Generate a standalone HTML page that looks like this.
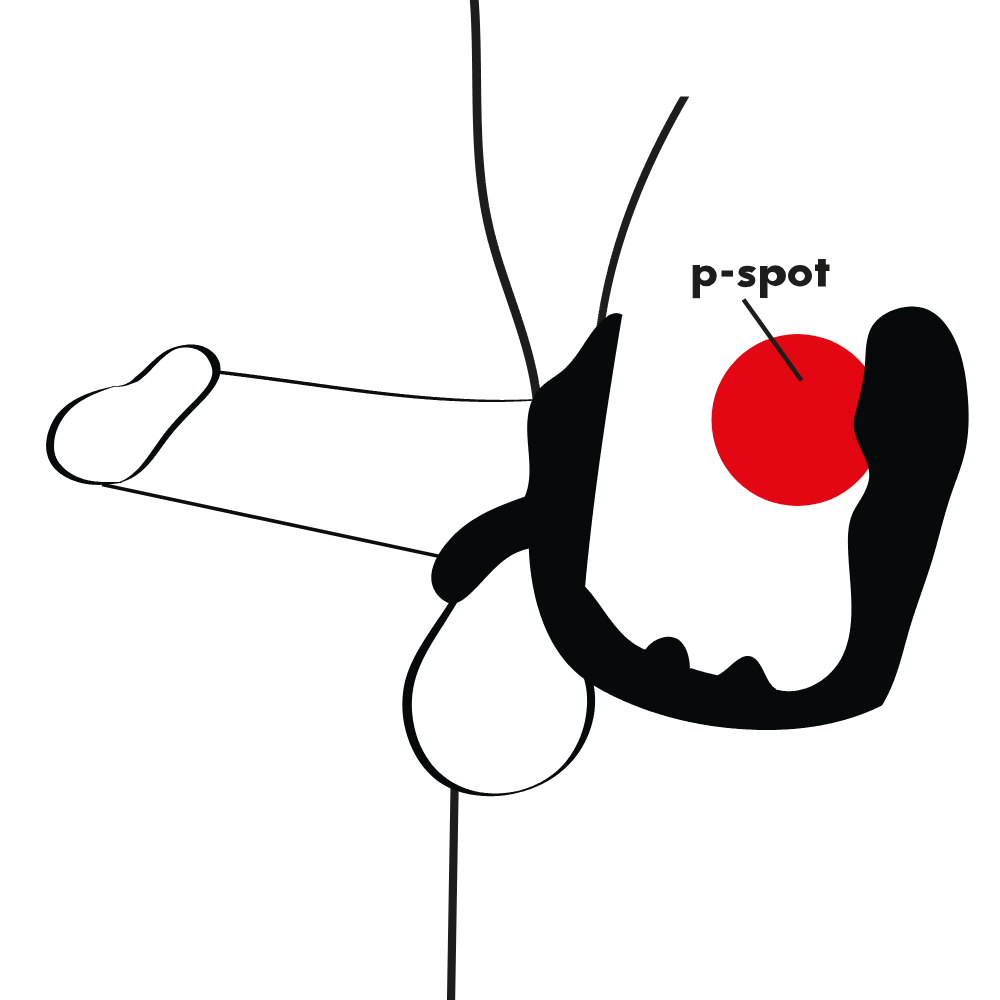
<!DOCTYPE html>
<html><head><meta charset="utf-8"><title>p-spot</title>
<style>html,body{margin:0;padding:0;background:#fff;width:1000px;height:1000px;overflow:hidden;font-family:"Liberation Sans",sans-serif}svg{display:block}</style>
</head><body>
<svg width="1000" height="1000" viewBox="0 0 1000 1000">
<rect width="1000" height="1000" fill="#ffffff"/>
<path d="M474.0 -3.9 L474.1 -2.9 L474.1 -2.0 L474.2 -1.0 L474.3 0.0 L474.3 1.0 L474.4 2.0 L474.5 3.0 L474.5 4.0 L474.6 5.0 L474.7 6.0 L474.7 7.0 L474.8 8.0 L474.8 9.0 L474.9 10.0 L475.0 11.0 L475.0 12.0 L475.1 13.0 L475.1 13.9 L475.2 14.9 L475.2 15.9 L475.3 16.9 L475.3 17.9 L475.4 18.9 L475.4 19.9 L475.4 20.9 L475.5 21.9 L475.5 22.9 L475.6 23.9 L475.6 24.9 L475.6 25.9 L475.7 26.9 L475.7 27.9 L475.7 28.9 L475.8 29.9 L475.8 30.9 L475.8 31.9 L475.9 32.9 L475.9 33.9 L475.9 34.9 L476.0 36.0 L476.0 37.0 L476.0 38.0 L476.0 39.0 L476.1 40.0 L476.1 41.0 L476.1 42.0 L476.1 43.0 L476.2 44.0 L476.2 45.0 L476.2 46.0 L476.2 47.0 L476.2 48.0 L476.3 49.0 L476.3 50.0 L476.3 51.0 L476.3 52.0 L476.3 53.0 L476.3 54.0 L476.4 55.0 L476.4 56.0 L476.4 57.1 L476.4 58.1 L476.4 59.1 L476.4 60.1 L476.4 61.1 L476.5 62.1 L476.5 63.1 L476.5 64.1 L476.5 65.1 L476.5 66.1 L476.5 67.1 L476.5 68.1 L476.5 69.1 L476.6 70.2 L476.6 71.2 L476.6 72.2 L476.6 73.2 L476.6 74.2 L476.6 75.2 L476.6 76.2 L476.6 77.2 L476.6 78.2 L476.7 79.2 L476.7 80.2 L476.7 81.2 L476.7 82.3 L476.7 83.3 L476.7 84.3 L476.7 85.3 L476.7 86.3 L476.7 87.3 L476.7 88.3 L476.8 89.3 L476.8 90.3 L476.8 91.3 L476.8 92.4 L476.8 93.4 L476.8 94.4 L476.8 95.4 L476.8 96.4 L476.9 97.4 L476.9 98.4 L476.9 99.4 L476.9 100.4 L476.9 101.4 L476.9 102.4 L476.9 103.5 L477.0 104.5 L477.0 105.5 L477.0 106.5 L477.0 107.5 L477.0 108.5 L477.1 109.5 L477.1 110.5 L477.1 111.5 L477.1 112.5 L477.1 113.5 L477.2 114.6 L477.2 115.6 L477.2 116.6 L477.2 117.6 L477.3 118.6 L477.3 119.6 L477.3 120.6 L477.3 121.6 L477.4 122.6 L477.4 123.6 L477.4 124.6 L477.5 125.6 L477.5 126.7 L477.5 127.7 L477.6 128.7 L477.6 129.7 L477.6 130.7 L477.7 131.7 L477.7 132.7 L477.7 133.7 L477.8 134.7 L477.8 135.7 L477.9 136.7 L477.9 137.7 L477.9 138.7 L478.0 139.7 L478.0 140.7 L478.1 141.7 L478.1 142.8 L478.2 143.8 L478.2 144.8 L478.3 145.8 L478.3 146.8 L478.4 147.8 L478.5 148.8 L478.5 149.8 L478.6 150.8 L478.6 151.8 L478.7 152.8 L478.8 153.8 L478.8 154.8 L478.9 155.8 L479.0 156.8 L479.0 157.8 L479.1 158.8 L479.2 159.8 L479.3 160.8 L479.3 161.8 L479.4 162.8 L479.5 163.8 L479.6 164.8 L479.7 165.8 L479.7 166.8 L479.8 167.8 L479.9 168.8 L480.0 169.8 L480.1 170.8 L480.2 171.8 L480.3 172.8 L480.4 173.8 L480.5 174.8 L480.6 175.8 L480.7 176.8 L480.8 177.8 L480.9 178.8 L481.0 179.8 L481.1 180.8 L481.2 181.8 L481.3 182.8 L481.5 183.8 L481.6 184.7 L481.7 185.7 L481.8 186.7 L481.9 187.7 L482.1 188.7 L482.2 189.7 L482.3 190.7 L482.5 191.7 L482.6 192.7 L482.7 193.7 L482.9 194.7 L483.0 195.7 L483.2 196.6 L483.3 197.6 L483.5 198.6 L483.6 199.6 L483.8 200.6 L483.9 201.6 L484.1 202.6 L484.2 203.6 L484.4 204.5 L484.6 205.5 L484.7 206.5 L484.9 207.5 L485.1 208.5 L485.3 209.5 L485.4 210.4 L485.6 211.4 L485.8 212.4 L486.0 213.4 L486.2 214.4 L486.4 215.4 L486.6 216.3 L486.8 217.3 L487.0 218.3 L487.2 219.3 L487.4 220.3 L487.6 221.2 L487.8 222.2 L488.0 223.2 L488.2 224.2 L488.4 225.1 L488.7 226.1 L488.9 227.1 L489.1 228.1 L489.3 229.0 L489.6 230.0 L489.8 231.0 L490.0 232.0 L490.3 232.9 L490.5 233.9 L490.8 234.9 L491.0 235.8 L491.3 236.8 L491.5 237.8 L491.8 238.8 L492.0 239.7 L492.3 240.7 L492.6 241.7 L492.8 242.6 L493.1 243.6 L493.4 244.6 L493.6 245.5 L493.9 246.5 L494.2 247.5 L494.5 248.4 L494.7 249.4 L495.0 250.4 L495.3 251.3 L495.6 252.3 L495.9 253.2 L496.2 254.2 L496.4 255.2 L496.7 256.1 L497.0 257.1 L497.3 258.1 L497.6 259.0 L497.9 260.0 L498.2 260.9 L498.5 261.9 L498.8 262.9 L499.1 263.8 L499.4 264.8 L499.7 265.7 L500.0 266.7 L500.3 267.7 L500.7 268.6 L501.0 269.6 L501.3 270.5 L501.6 271.5 L501.9 272.5 L502.2 273.4 L502.5 274.4 L502.9 275.3 L503.2 276.3 L503.5 277.2 L503.8 278.2 L504.1 279.2 L504.4 280.1 L504.8 281.1 L505.1 282.0 L505.4 283.0 L505.7 283.9 L506.1 284.9 L506.4 285.9 L506.7 286.8 L507.0 287.8 L507.4 288.7 L507.7 289.7 L508.0 290.6 L508.3 291.6 L508.7 292.6 L509.0 293.5 L509.3 294.5 L509.6 295.4 L510.0 296.4 L510.3 297.3 L510.6 298.3 L510.9 299.2 L511.3 300.2 L511.6 301.2 L511.9 302.1 L512.2 303.1 L512.6 304.0 L512.9 305.0 L513.2 305.9 L513.5 306.9 L513.9 307.8 L514.2 308.8 L514.5 309.8 L514.8 310.7 L515.2 311.7 L515.5 312.6 L515.8 313.6 L516.1 314.5 L516.4 315.5 L516.8 316.4 L517.1 317.4 L517.4 318.4 L517.7 319.3 L518.0 320.3 L518.3 321.2 L518.6 322.2 L519.0 323.1 L519.3 324.1 L519.6 325.1 L519.9 326.0 L520.2 327.0 L520.5 327.9 L520.8 328.9 L521.1 329.8 L521.4 330.8 L521.7 331.8 L522.0 332.7 L522.3 333.7 L522.6 334.6 L522.9 335.6 L523.2 336.6 L523.5 337.5 L523.8 338.5 L524.1 339.4 L524.3 340.4 L524.6 341.4 L524.9 342.3 L525.2 343.3 L525.5 344.2 L525.8 345.2 L526.0 346.2 L526.3 347.1 L526.6 348.1 L526.8 349.1 L527.1 350.0 L527.4 351.0 L527.6 352.0 L527.9 352.9 L528.2 353.9 L528.4 354.8 L528.7 355.8 L528.9 356.8 L529.2 357.7 L529.4 358.7 L529.7 359.7 L529.9 360.6 L530.1 361.6 L530.4 362.6 L530.6 363.6 L530.8 364.5 L531.1 365.5 L531.3 366.5 L531.5 367.4 L531.7 368.4 L532.0 369.4 L532.2 370.3 L532.4 371.3 L532.6 372.3 L532.8 373.3 L533.0 374.2 L533.2 375.2 L533.4 376.2 L533.6 377.2 L533.8 378.1 L534.0 379.1 L534.1 380.1 L534.3 381.1 L534.5 382.1 L534.7 383.0 L534.8 384.0 L535.0 385.0 L535.2 386.0 L535.3 386.9 L535.5 387.9 L535.6 388.9 L535.8 389.9 L535.9 390.9 L536.1 391.9 L536.2 392.8 L536.3 393.8 L536.5 394.8 L536.6 395.8 L536.7 396.8 L536.8 397.8 L536.9 398.8 L537.0 399.8" fill="none" stroke="#1d1d1b" stroke-width="8.8" stroke-linecap="butt" stroke-linejoin="round"/>
<defs><clipPath id="rt"><rect x="0" y="96.5" width="1000" height="904"/></clipPath></defs>
<path d="M690.8 86.4 L690.2 87.2 L689.7 88.1 L689.2 88.9 L688.7 89.8 L688.2 90.7 L687.7 91.6 L687.2 92.4 L686.7 93.3 L686.1 94.2 L685.6 95.0 L685.1 95.9 L684.6 96.8 L684.1 97.6 L683.6 98.5 L683.1 99.4 L682.6 100.3 L682.1 101.1 L681.6 102.0 L681.1 102.9 L680.6 103.8 L680.1 104.6 L679.6 105.5 L679.1 106.4 L678.6 107.3 L678.1 108.1 L677.6 109.0 L677.1 109.9 L676.7 110.8 L676.2 111.7 L675.7 112.5 L675.2 113.4 L674.7 114.3 L674.2 115.2 L673.7 116.1 L673.2 116.9 L672.8 117.8 L672.3 118.7 L671.8 119.6 L671.3 120.5 L670.9 121.4 L670.4 122.3 L669.9 123.1 L669.4 124.0 L669.0 124.9 L668.5 125.8 L668.0 126.7 L667.5 127.6 L667.1 128.5 L666.6 129.4 L666.1 130.3 L665.7 131.2 L665.2 132.0 L664.7 132.9 L664.3 133.8 L663.8 134.7 L663.4 135.6 L662.9 136.5 L662.5 137.4 L662.0 138.3 L661.5 139.2 L661.1 140.1 L660.6 141.0 L660.2 141.9 L659.7 142.8 L659.3 143.7 L658.8 144.6 L658.4 145.5 L658.0 146.4 L657.5 147.3 L657.1 148.2 L656.6 149.1 L656.2 150.0 L655.7 150.9 L655.3 151.8 L654.9 152.7 L654.4 153.6 L654.0 154.5 L653.6 155.5 L653.1 156.4 L652.7 157.3 L652.3 158.2 L651.9 159.1 L651.4 160.0 L651.0 160.9 L650.6 161.8 L650.2 162.7 L649.7 163.6 L649.3 164.6 L648.9 165.5 L648.5 166.4 L648.1 167.3 L647.7 168.2 L647.2 169.1 L646.8 170.0 L646.4 171.0 L646.0 171.9 L645.6 172.8 L645.2 173.7 L644.8 174.6 L644.4 175.5 L644.0 176.5 L643.6 177.4 L643.2 178.3 L642.8 179.2 L642.4 180.1 L642.0 181.1 L641.6 182.0 L641.2 182.9 L640.8 183.8 L640.4 184.8 L640.0 185.7 L639.7 186.6 L639.3 187.5 L638.9 188.5 L638.5 189.4 L638.1 190.3 L637.7 191.2 L637.4 192.2 L637.0 193.1 L636.6 194.0 L636.2 195.0 L635.9 195.9 L635.5 196.8 L635.1 197.8 L634.8 198.7 L634.4 199.6 L634.0 200.6 L633.7 201.5 L633.3 202.4 L632.9 203.4 L632.6 204.3 L632.2 205.2 L631.9 206.2 L631.5 207.1 L631.2 208.0 L630.8 209.0 L630.5 209.9 L630.1 210.9 L629.8 211.8 L629.4 212.7 L629.1 213.7 L628.7 214.6 L628.4 215.6 L628.0 216.5 L627.7 217.4 L627.4 218.4 L627.0 219.3 L626.7 220.3 L626.4 221.2 L626.0 222.2 L625.7 223.1 L625.4 224.1 L625.1 225.0 L624.7 226.0 L624.4 226.9 L624.1 227.9 L623.8 228.8 L623.4 229.8 L623.1 230.7 L622.8 231.7 L622.5 232.6 L622.2 233.6 L621.9 234.5 L621.6 235.5 L621.3 236.4 L621.0 237.4 L620.7 238.3 L620.4 239.3 L620.1 240.2 L619.8 241.2 L619.5 242.2 L619.2 243.1 L618.9 244.1 L618.6 245.0 L618.3 246.0 L618.0 246.9 L617.7 247.9 L617.4 248.9 L617.1 249.8 L616.9 250.8 L616.6 251.8 L616.3 252.7 L616.0 253.7 L615.7 254.6 L615.5 255.6 L615.2 256.6 L614.9 257.5 L614.7 258.5 L614.4 259.5 L614.1 260.4 L613.9 261.4 L613.6 262.4 L613.3 263.3 L613.1 264.3 L612.8 265.3 L612.6 266.2 L612.3 267.2 L612.1 268.2 L611.8 269.2 L611.6 270.1 L611.3 271.1 L611.1 272.1 L610.8 273.1 L610.6 274.0 L610.4 275.0 L610.1 276.0 L609.9 277.0 L609.7 277.9 L609.4 278.9 L609.2 279.9 L609.0 280.9 L608.7 281.8 L608.5 282.8 L608.3 283.8 L608.1 284.8 L607.9 285.8 L607.6 286.7 L607.4 287.7 L607.2 288.7 L607.0 289.7 L606.8 290.7 L606.6 291.7 L606.4 292.6 L606.2 293.6 L606.0 294.6 L605.8 295.6 L605.6 296.6 L605.4 297.6 L605.2 298.6 L605.0 299.5 L604.8 300.5 L604.6 301.5 L604.4 302.5 L604.2 303.5 L604.0 304.5 L603.9 305.5 L603.7 306.5 L603.5 307.5 L603.3 308.5 L603.2 309.4 L603.0 310.4 L602.8 311.4 L602.6 312.4 L602.5 313.4 L602.3 314.4 L602.1 315.4 L602.0 316.4 L601.8 317.4 L601.7 318.4 L601.5 319.4 L601.4 320.4 L601.2 321.4 L601.1 322.4 L600.9 323.4 L600.8 324.4 L600.6 325.4 L600.5 326.4 L600.4 327.4 L600.2 328.4 L600.1 329.4 L599.9 330.4" fill="none" stroke="#1d1d1b" stroke-width="7.8" stroke-linecap="butt" stroke-linejoin="round" clip-path="url(#rt)"/>
<path d="M218.8 374.0 L219.5 374.1 L220.2 374.1 L220.9 374.2 L221.6 374.3 L222.3 374.4 L223.0 374.5 L223.7 374.5 L224.4 374.6 L225.1 374.7 L225.8 374.8 L226.5 374.9 L227.2 375.0 L227.9 375.0 L228.6 375.1 L229.2 375.2 L229.9 375.3 L230.6 375.4 L231.3 375.5 L232.0 375.6 L232.7 375.6 L233.4 375.7 L234.1 375.8 L234.8 375.9 L235.5 376.0 L236.2 376.1 L236.9 376.2 L237.6 376.2 L238.3 376.3 L239.0 376.4 L239.7 376.5 L240.4 376.6 L241.1 376.7 L241.8 376.8 L242.5 376.9 L243.2 376.9 L243.9 377.0 L244.6 377.1 L245.3 377.2 L246.0 377.3 L246.7 377.4 L247.4 377.5 L248.1 377.6 L248.7 377.7 L249.4 377.7 L250.1 377.8 L250.8 377.9 L251.5 378.0 L252.2 378.1 L252.9 378.2 L253.6 378.3 L254.3 378.4 L255.0 378.5 L255.7 378.6 L256.4 378.7 L257.1 378.7 L257.8 378.8 L258.5 378.9 L259.2 379.0 L259.9 379.1 L260.6 379.2 L261.3 379.3 L262.0 379.4 L262.7 379.5 L263.4 379.6 L264.1 379.7 L264.8 379.8 L265.5 379.9 L266.2 380.0 L266.9 380.0 L267.6 380.1 L268.2 380.2 L268.9 380.3 L269.6 380.4 L270.3 380.5 L271.0 380.6 L271.7 380.7 L272.4 380.8 L273.1 380.9 L273.8 381.0 L274.5 381.1 L275.2 381.2 L275.9 381.3 L276.6 381.4 L277.3 381.5 L278.0 381.6 L278.7 381.7 L279.4 381.7 L280.1 381.8 L280.8 381.9 L281.5 382.0 L282.2 382.1 L282.9 382.2 L283.6 382.3 L284.3 382.4 L285.0 382.5 L285.7 382.6 L286.4 382.7 L287.1 382.8 L287.8 382.9 L288.5 383.0 L289.2 383.1 L289.8 383.2 L290.5 383.3 L291.2 383.4 L291.9 383.5 L292.6 383.6 L293.3 383.7 L294.0 383.8 L294.7 383.8 L295.4 383.9 L296.1 384.0 L296.8 384.1 L297.5 384.2 L298.2 384.3 L298.9 384.4 L299.6 384.5 L300.3 384.6 L301.0 384.7 L301.7 384.8 L302.4 384.9 L303.1 385.0 L303.8 385.1 L304.5 385.2 L305.2 385.3 L305.9 385.4 L306.6 385.5 L307.3 385.6 L308.0 385.7 L308.7 385.8 L309.4 385.9 L310.1 386.0 L310.8 386.1 L311.5 386.1 L312.2 386.2 L312.9 386.3 L313.6 386.4 L314.3 386.5 L314.9 386.6 L315.6 386.7 L316.3 386.8 L317.0 386.9 L317.7 387.0 L318.4 387.1 L319.1 387.2 L319.8 387.3 L320.5 387.4 L321.2 387.5 L321.9 387.6 L322.6 387.7 L323.3 387.8 L324.0 387.9 L324.7 388.0 L325.4 388.0 L326.1 388.1 L326.8 388.2 L327.5 388.3 L328.2 388.4 L328.9 388.5 L329.6 388.6 L330.3 388.7 L331.0 388.8 L331.7 388.9 L332.4 389.0 L333.1 389.1 L333.8 389.2 L334.5 389.3 L335.2 389.4 L335.9 389.4 L336.6 389.5 L337.3 389.6 L338.0 389.7 L338.7 389.8 L339.4 389.9 L340.1 390.0 L340.8 390.1 L341.5 390.2 L342.2 390.3 L342.9 390.4 L343.6 390.5 L344.3 390.5 L345.0 390.6 L345.7 390.7 L346.4 390.8 L347.0 390.9 L347.7 391.0 L348.4 391.1 L349.1 391.2 L349.8 391.3 L350.5 391.4 L351.2 391.4 L351.9 391.5 L352.6 391.6 L353.3 391.7 L354.0 391.8 L354.7 391.9 L355.4 392.0 L356.1 392.1 L356.8 392.2 L357.5 392.2 L358.2 392.3 L358.9 392.4 L359.6 392.5 L360.3 392.6 L361.0 392.7 L361.7 392.8 L362.4 392.8 L363.1 392.9 L363.8 393.0 L364.5 393.1 L365.2 393.2 L365.9 393.3 L366.6 393.4 L367.3 393.4 L368.0 393.5 L368.7 393.6 L369.4 393.7 L370.1 393.8 L370.8 393.8 L371.5 393.9 L372.2 394.0 L372.9 394.1 L373.6 394.2 L374.3 394.3 L375.0 394.3 L375.7 394.4 L376.4 394.5 L377.1 394.6 L377.8 394.7 L378.5 394.7 L379.2 394.8 L379.9 394.9 L380.6 395.0 L381.3 395.0 L382.0 395.1 L382.7 395.2 L383.4 395.3 L384.1 395.4 L384.8 395.4 L385.5 395.5 L386.2 395.6 L386.9 395.7 L387.6 395.7 L388.3 395.8 L389.0 395.9 L389.7 396.0 L390.4 396.0 L391.1 396.1 L391.8 396.2 L392.5 396.3 L393.2 396.3 L393.9 396.4 L394.6 396.5 L395.3 396.5 L396.0 396.6 L396.7 396.7 L397.4 396.8 L398.1 396.8 L398.8 396.9 L399.5 397.0 L400.2 397.0 L400.9 397.1 L401.6 397.2 L402.3 397.2 L403.0 397.3 L403.7 397.4 L404.4 397.5 L405.1 397.5 L405.8 397.6 L406.5 397.7 L407.2 397.7 L407.9 397.8 L408.6 397.8 L409.3 397.9 L410.0 398.0 L410.7 398.0 L411.4 398.1 L412.1 398.2 L412.8 398.2 L413.5 398.3 L414.2 398.4 L414.9 398.4 L415.6 398.5 L416.3 398.5 L417.0 398.6 L417.7 398.7 L418.4 398.7 L419.1 398.8 L419.8 398.8 L420.5 398.9 L421.2 399.0 L421.9 399.0 L422.6 399.1 L423.3 399.1 L424.0 399.2 L424.7 399.2 L425.4 399.3 L426.1 399.4 L426.8 399.4 L427.5 399.5 L428.2 399.5 L428.9 399.6 L429.6 399.6 L430.3 399.7 L431.0 399.7 L431.7 399.8 L432.4 399.8 L433.1 399.9 L433.8 399.9 L434.5 400.0 L435.2 400.0 L435.9 400.1 L436.6 400.1 L437.3 400.2 L438.0 400.2 L438.7 400.3 L439.4 400.3 L440.1 400.4 L440.8 400.4 L441.5 400.4 L442.2 400.5 L443.0 400.5 L443.7 400.6 L444.4 400.6 L445.1 400.6 L445.8 400.7 L446.5 400.7 L447.2 400.8 L447.9 400.8 L448.6 400.8 L449.3 400.9 L450.0 400.9 L450.7 400.9 L451.4 401.0 L452.1 401.0 L452.8 401.0 L453.5 401.1 L454.2 401.1 L454.9 401.1 L455.6 401.2 L456.3 401.2 L457.0 401.2 L457.7 401.2 L458.4 401.3 L459.1 401.3 L459.8 401.3 L460.5 401.4 L461.2 401.4 L461.9 401.4 L462.6 401.4 L463.3 401.5 L464.0 401.5 L464.7 401.5 L465.4 401.5 L466.1 401.6 L466.8 401.6 L467.5 401.6 L468.2 401.6 L468.9 401.6 L469.7 401.7 L470.4 401.7 L471.1 401.7 L471.8 401.7 L472.5 401.7 L473.2 401.7 L473.9 401.8 L474.6 401.8 L475.3 401.8 L476.0 401.8 L476.7 401.8 L477.4 401.8 L478.1 401.8 L478.8 401.9 L479.5 401.9 L480.2 401.9 L480.9 401.9 L481.6 401.9 L482.3 401.9 L483.0 401.9 L483.7 401.9 L484.4 401.9 L485.1 401.9 L485.8 401.9 L486.5 402.0 L487.2 402.0 L487.9 402.0 L488.6 402.0 L489.4 402.0 L490.1 402.0 L490.8 402.0 L491.5 402.0 L492.2 402.0 L492.9 402.0 L493.6 402.0 L494.3 402.0 L495.0 402.0 L495.7 402.0 L496.4 402.0 L497.1 402.0 L497.8 401.9 L498.5 401.9 L499.2 401.9 L499.9 401.9 L500.6 401.9 L501.3 401.9 L502.0 401.9 L502.7 401.9 L503.4 401.9 L504.1 401.9 L504.8 401.9 L505.5 401.8 L506.3 401.8 L507.0 401.8 L507.7 401.8 L508.4 401.8 L509.1 401.8 L509.8 401.8 L510.5 401.7 L511.2 401.7 L511.9 401.7 L512.6 401.7 L513.3 401.7 L514.0 401.6 L514.7 401.6 L515.4 401.6 L516.1 401.6 L516.8 401.5 L517.5 401.5 L518.2 401.5 L518.9 401.5 L519.6 401.4 L520.4 401.4 L521.1 401.4 L521.8 401.3 L522.5 401.3 L523.2 401.3 L523.9 401.3 L524.6 401.2 L525.3 401.2 L526.0 401.2 L526.7 401.1 L527.4 401.1 L528.1 401.0 L528.8 401.0 L529.5 401.0 L530.2 400.9 L530.9 400.9 L531.6 400.8 L532.3 400.8 L533.1 400.8 L533.0 399.2 L532.3 399.2 L531.6 399.2 L530.9 399.3 L530.2 399.3 L529.4 399.3 L528.7 399.3 L528.0 399.4 L527.3 399.4 L526.6 399.4 L525.9 399.5 L525.2 399.5 L524.5 399.5 L523.8 399.5 L523.1 399.5 L522.4 399.6 L521.7 399.6 L521.0 399.6 L520.3 399.6 L519.6 399.6 L518.9 399.7 L518.2 399.7 L517.5 399.7 L516.8 399.7 L516.1 399.7 L515.4 399.7 L514.7 399.7 L514.0 399.8 L513.3 399.8 L512.6 399.8 L511.9 399.8 L511.1 399.8 L510.4 399.8 L509.7 399.8 L509.0 399.8 L508.3 399.8 L507.6 399.8 L506.9 399.8 L506.2 399.8 L505.5 399.8 L504.8 399.8 L504.1 399.9 L503.4 399.9 L502.7 399.9 L502.0 399.9 L501.3 399.9 L500.6 399.9 L499.9 399.8 L499.2 399.8 L498.5 399.8 L497.8 399.8 L497.1 399.8 L496.4 399.8 L495.7 399.8 L495.0 399.8 L494.3 399.8 L493.6 399.8 L492.9 399.8 L492.2 399.8 L491.5 399.8 L490.8 399.8 L490.1 399.7 L489.4 399.7 L488.7 399.7 L488.0 399.7 L487.3 399.7 L486.6 399.7 L485.9 399.7 L485.2 399.6 L484.5 399.6 L483.8 399.6 L483.1 399.6 L482.4 399.6 L481.7 399.6 L481.0 399.5 L480.3 399.5 L479.6 399.5 L478.9 399.5 L478.2 399.5 L477.5 399.4 L476.8 399.4 L476.0 399.4 L475.3 399.4 L474.6 399.3 L473.9 399.3 L473.2 399.3 L472.5 399.2 L471.8 399.2 L471.1 399.2 L470.4 399.2 L469.7 399.1 L469.0 399.1 L468.3 399.1 L467.6 399.0 L466.9 399.0 L466.2 399.0 L465.5 398.9 L464.8 398.9 L464.1 398.9 L463.4 398.8 L462.7 398.8 L462.0 398.8 L461.3 398.7 L460.6 398.7 L459.9 398.6 L459.2 398.6 L458.5 398.6 L457.8 398.5 L457.1 398.5 L456.4 398.4 L455.7 398.4 L455.0 398.4 L454.3 398.3 L453.6 398.3 L452.9 398.2 L452.2 398.2 L451.5 398.1 L450.8 398.1 L450.1 398.1 L449.4 398.0 L448.7 398.0 L448.0 397.9 L447.3 397.9 L446.6 397.8 L445.9 397.8 L445.2 397.7 L444.5 397.7 L443.8 397.6 L443.1 397.6 L442.4 397.5 L441.7 397.5 L441.0 397.4 L440.3 397.4 L439.6 397.3 L438.9 397.3 L438.2 397.2 L437.5 397.2 L436.8 397.1 L436.1 397.1 L435.5 397.0 L434.8 397.0 L434.1 396.9 L433.4 396.9 L432.7 396.8 L432.0 396.7 L431.3 396.7 L430.6 396.6 L429.9 396.6 L429.2 396.5 L428.5 396.5 L427.8 396.4 L427.1 396.3 L426.4 396.3 L425.7 396.2 L425.0 396.2 L424.3 396.1 L423.6 396.1 L422.9 396.0 L422.2 395.9 L421.5 395.9 L420.8 395.8 L420.1 395.8 L419.4 395.7 L418.7 395.6 L418.0 395.6 L417.3 395.5 L416.6 395.4 L415.9 395.4 L415.2 395.3 L414.5 395.2 L413.8 395.2 L413.1 395.1 L412.4 395.0 L411.7 395.0 L411.0 394.9 L410.3 394.8 L409.6 394.8 L408.9 394.7 L408.2 394.6 L407.5 394.6 L406.8 394.5 L406.1 394.4 L405.4 394.4 L404.7 394.3 L404.0 394.2 L403.3 394.1 L402.6 394.1 L401.9 394.0 L401.2 393.9 L400.5 393.9 L399.8 393.8 L399.1 393.7 L398.4 393.6 L397.7 393.6 L397.0 393.5 L396.3 393.4 L395.6 393.3 L394.9 393.3 L394.2 393.2 L393.5 393.1 L392.8 393.0 L392.1 393.0 L391.4 392.9 L390.7 392.8 L390.0 392.7 L389.3 392.7 L388.6 392.6 L387.9 392.5 L387.3 392.4 L386.6 392.3 L385.9 392.3 L385.2 392.2 L384.5 392.1 L383.8 392.0 L383.1 391.9 L382.4 391.9 L381.7 391.8 L381.0 391.7 L380.3 391.6 L379.6 391.5 L378.9 391.4 L378.2 391.4 L377.5 391.3 L376.8 391.2 L376.1 391.1 L375.4 391.0 L374.7 390.9 L374.0 390.9 L373.3 390.8 L372.6 390.7 L371.9 390.6 L371.2 390.5 L370.5 390.4 L369.8 390.4 L369.1 390.3 L368.4 390.2 L367.7 390.1 L367.0 390.0 L366.3 389.9 L365.6 389.8 L364.9 389.7 L364.2 389.7 L363.5 389.6 L362.8 389.5 L362.1 389.4 L361.4 389.3 L360.7 389.2 L360.0 389.1 L359.3 389.0 L358.6 389.0 L358.0 388.9 L357.3 388.8 L356.6 388.7 L355.9 388.6 L355.2 388.5 L354.5 388.4 L353.8 388.3 L353.1 388.2 L352.4 388.2 L351.7 388.1 L351.0 388.0 L350.3 387.9 L349.6 387.8 L348.9 387.7 L348.2 387.6 L347.5 387.5 L346.8 387.4 L346.1 387.3 L345.4 387.2 L344.7 387.2 L344.0 387.1 L343.3 387.0 L342.6 386.9 L341.9 386.8 L341.2 386.7 L340.5 386.6 L339.8 386.5 L339.1 386.4 L338.4 386.3 L337.7 386.2 L337.0 386.1 L336.3 386.0 L335.6 386.0 L334.9 385.9 L334.2 385.8 L333.5 385.7 L332.8 385.6 L332.1 385.5 L331.5 385.4 L330.8 385.3 L330.1 385.2 L329.4 385.1 L328.7 385.0 L328.0 384.9 L327.3 384.8 L326.6 384.7 L325.9 384.6 L325.2 384.5 L324.5 384.4 L323.8 384.3 L323.1 384.3 L322.4 384.2 L321.7 384.1 L321.0 384.0 L320.3 383.9 L319.6 383.8 L318.9 383.7 L318.2 383.6 L317.5 383.5 L316.8 383.4 L316.1 383.3 L315.4 383.2 L314.7 383.1 L314.0 383.0 L313.3 382.9 L312.6 382.8 L311.9 382.7 L311.2 382.6 L310.5 382.5 L309.8 382.4 L309.1 382.3 L308.4 382.2 L307.8 382.1 L307.1 382.0 L306.4 381.9 L305.7 381.9 L305.0 381.8 L304.3 381.7 L303.6 381.6 L302.9 381.5 L302.2 381.4 L301.5 381.3 L300.8 381.2 L300.1 381.1 L299.4 381.0 L298.7 380.9 L298.0 380.8 L297.3 380.7 L296.6 380.6 L295.9 380.5 L295.2 380.4 L294.5 380.3 L293.8 380.2 L293.1 380.1 L292.4 380.0 L291.7 379.9 L291.0 379.8 L290.3 379.7 L289.6 379.6 L288.9 379.5 L288.2 379.4 L287.5 379.3 L286.8 379.2 L286.1 379.1 L285.4 379.0 L284.7 379.0 L284.1 378.9 L283.4 378.8 L282.7 378.7 L282.0 378.6 L281.3 378.5 L280.6 378.4 L279.9 378.3 L279.2 378.2 L278.5 378.1 L277.8 378.0 L277.1 377.9 L276.4 377.8 L275.7 377.7 L275.0 377.6 L274.3 377.5 L273.6 377.4 L272.9 377.3 L272.2 377.2 L271.5 377.1 L270.8 377.0 L270.1 377.0 L269.4 376.9 L268.7 376.8 L268.0 376.7 L267.3 376.6 L266.6 376.5 L265.9 376.4 L265.2 376.3 L264.5 376.2 L263.8 376.1 L263.1 376.0 L262.4 375.9 L261.7 375.8 L261.0 375.7 L260.4 375.6 L259.7 375.6 L259.0 375.5 L258.3 375.4 L257.6 375.3 L256.9 375.2 L256.2 375.1 L255.5 375.0 L254.8 374.9 L254.1 374.8 L253.4 374.7 L252.7 374.6 L252.0 374.5 L251.3 374.5 L250.6 374.4 L249.9 374.3 L249.2 374.2 L248.5 374.1 L247.8 374.0 L247.1 373.9 L246.4 373.8 L245.7 373.7 L245.0 373.6 L244.3 373.6 L243.6 373.5 L242.9 373.4 L242.2 373.3 L241.5 373.2 L240.8 373.1 L240.1 373.0 L239.4 372.9 L238.7 372.9 L238.0 372.8 L237.3 372.7 L236.6 372.6 L235.9 372.5 L235.2 372.4 L234.6 372.3 L233.9 372.2 L233.2 372.2 L232.5 372.1 L231.8 372.0 L231.1 371.9 L230.4 371.8 L229.7 371.7 L229.0 371.7 L228.3 371.6 L227.6 371.5 L226.9 371.4 L226.2 371.3 L225.5 371.2 L224.8 371.2 L224.1 371.1 L223.4 371.0 L222.7 370.9 L222.0 370.8 L221.3 370.7 L220.6 370.7 L219.9 370.6 L219.2 370.5Z" fill="#0c0e0e"/>
<path d="M102.0 484.6 L440.0 556.4" fill="none" stroke="#0c0e0e" stroke-width="3.6" stroke-linecap="butt" stroke-linejoin="round"/>
<path d="M454.6 786.0 L451.0 1004.0" fill="none" stroke="#1d1d1b" stroke-width="8.2" stroke-linecap="butt" stroke-linejoin="round"/>
<path d="M113.9 386.2 L113.2 386.3 L112.6 386.5 L111.9 386.6 L111.2 386.8 L110.6 386.9 L109.9 387.1 L109.2 387.2 L108.5 387.4 L107.9 387.5 L107.2 387.7 L106.5 387.9 L105.8 388.0 L105.2 388.2 L104.5 388.4 L103.8 388.5 L103.1 388.7 L102.4 388.9 L101.8 389.1 L101.1 389.3 L100.4 389.5 L99.7 389.6 L99.0 389.8 L98.3 390.0 L97.7 390.2 L97.0 390.4 L96.3 390.7 L95.6 390.9 L94.9 391.1 L94.2 391.3 L93.6 391.5 L92.9 391.7 L92.2 392.0 L91.5 392.2 L90.8 392.4 L90.1 392.7 L89.5 392.9 L88.8 393.2 L88.1 393.4 L87.4 393.7 L86.8 394.0 L86.1 394.2 L85.4 394.5 L84.8 394.8 L84.1 395.1 L83.4 395.4 L82.8 395.7 L82.1 396.0 L81.4 396.3 L80.8 396.6 L80.1 396.9 L79.5 397.2 L78.8 397.5 L78.2 397.9 L77.5 398.2 L76.9 398.5 L76.3 398.9 L75.6 399.2 L75.0 399.6 L74.4 400.0 L73.7 400.3 L73.1 400.7 L72.5 401.1 L71.9 401.5 L71.3 401.9 L70.7 402.3 L70.1 402.7 L69.5 403.1 L68.9 403.5 L68.3 404.0 L67.7 404.4 L67.1 404.8 L66.5 405.3 L65.9 405.8 L65.4 406.2 L64.8 406.7 L64.2 407.2 L63.7 407.7 L63.1 408.2 L62.6 408.7 L62.0 409.2 L61.5 409.7 L61.0 410.2 L60.4 410.8 L59.9 411.3 L59.4 411.9 L58.9 412.4 L58.4 413.0 L57.9 413.6 L57.4 414.2 L56.9 414.8 L56.5 415.4 L56.0 416.0 L55.6 416.6 L55.2 417.3 L54.8 417.9 L54.3 418.6 L53.9 419.3 L53.6 419.9 L53.2 420.6 L52.8 421.3 L52.4 422.0 L52.1 422.7 L51.7 423.4 L51.4 424.1 L51.0 424.8 L50.7 425.5 L50.4 426.2 L50.1 426.9 L49.8 427.7 L49.5 428.4 L49.3 429.1 L49.0 429.9 L48.7 430.6 L48.5 431.3 L48.3 432.1 L48.0 432.8 L47.8 433.6 L47.6 434.3 L47.4 435.1 L47.3 435.9 L47.1 436.6 L46.9 437.4 L46.8 438.1 L46.7 438.9 L46.6 439.7 L46.4 440.4 L46.4 441.2 L46.3 442.0 L46.2 442.7 L46.1 443.5 L46.1 444.3 L46.1 445.0 L46.1 445.8 L46.1 446.6 L46.1 447.3 L46.2 448.1 L46.2 448.8 L46.3 449.6 L46.4 450.3 L46.5 451.1 L46.6 451.8 L46.8 452.6 L46.9 453.3 L47.1 454.1 L47.3 454.8 L47.5 455.5 L47.7 456.2 L47.9 456.9 L48.1 457.7 L48.4 458.4 L48.7 459.1 L49.0 459.7 L49.3 460.4 L49.6 461.1 L49.9 461.8 L50.3 462.4 L50.7 463.1 L51.0 463.7 L51.4 464.3 L51.8 464.9 L52.3 465.5 L52.7 466.1 L53.1 466.7 L53.6 467.3 L54.1 467.9 L54.6 468.4 L55.1 469.0 L55.6 469.5 L56.1 470.1 L56.6 470.6 L57.2 471.1 L57.7 471.6 L58.3 472.0 L58.9 472.5 L59.5 473.0 L60.0 473.4 L60.6 473.9 L61.3 474.3 L61.9 474.7 L62.5 475.1 L63.1 475.5 L63.8 475.9 L64.4 476.3 L65.1 476.7 L65.7 477.1 L66.4 477.4 L67.1 477.8 L67.7 478.1 L68.4 478.4 L69.1 478.8 L69.8 479.1 L70.5 479.4 L71.2 479.7 L71.9 480.0 L72.6 480.3 L73.3 480.5 L74.0 480.8 L74.7 481.1 L75.4 481.3 L76.2 481.6 L76.9 481.8 L77.6 482.0 L78.3 482.2 L79.1 482.4 L79.8 482.6 L80.5 482.8 L81.3 483.0 L82.0 483.2 L82.8 483.3 L83.5 483.5 L84.2 483.6 L85.0 483.8 L85.7 483.9 L86.5 484.0 L87.2 484.1 L88.0 484.2 L88.7 484.3 L89.4 484.4 L90.2 484.5 L90.9 484.5 L91.7 484.6 L92.4 484.7 L93.1 484.7 L93.9 484.7 L94.6 484.8 L95.4 484.8 L96.1 484.8 L96.8 484.8 L97.5 484.9 L98.3 484.9 L99.0 484.9 L99.7 484.9 L100.5 484.8 L101.2 484.8 L101.9 484.8 L102.6 484.8 L103.3 484.7 L104.1 484.7 L104.8 484.7 L105.5 484.6 L106.2 484.5 L106.9 484.5 L107.6 484.4 L108.3 484.4 L109.0 484.3 L109.7 484.2 L110.4 484.2 L111.1 484.1 L111.8 484.0 L112.5 483.9 L113.2 483.9 L113.9 483.8 L114.6 483.7 L115.3 483.6 L115.9 483.5 L116.6 483.4 L117.3 483.4 L118.0 483.3 L118.6 483.2 L119.3 483.1 L120.0 483.0 L120.6 483.0 L121.3 482.9 L121.9 482.8 L121.9 482.0 L121.2 482.0 L120.6 482.0 L119.9 482.0 L119.2 482.0 L118.6 482.0 L117.9 482.0 L117.2 482.1 L116.5 482.1 L115.8 482.1 L115.2 482.1 L114.5 482.1 L113.8 482.1 L113.1 482.1 L112.4 482.1 L111.7 482.1 L111.0 482.1 L110.3 482.1 L109.6 482.1 L108.9 482.1 L108.2 482.1 L107.5 482.1 L106.8 482.1 L106.1 482.0 L105.4 482.0 L104.7 482.0 L104.0 482.0 L103.3 481.9 L102.6 481.9 L101.9 481.9 L101.2 481.9 L100.5 481.8 L99.8 481.8 L99.1 481.8 L98.4 481.7 L97.7 481.6 L97.0 481.6 L96.3 481.5 L95.6 481.4 L94.9 481.4 L94.2 481.3 L93.5 481.2 L92.8 481.1 L92.1 481.0 L91.4 480.9 L90.7 480.8 L90.0 480.6 L89.3 480.5 L88.6 480.4 L87.9 480.2 L87.2 480.1 L86.5 479.9 L85.9 479.7 L85.2 479.5 L84.5 479.4 L83.8 479.2 L83.1 478.9 L82.5 478.7 L81.8 478.5 L81.1 478.3 L80.5 478.0 L79.8 477.8 L79.1 477.5 L78.5 477.3 L77.8 477.0 L77.2 476.7 L76.6 476.5 L75.9 476.2 L75.3 475.9 L74.7 475.6 L74.0 475.2 L73.4 474.9 L72.8 474.6 L72.2 474.3 L71.6 473.9 L71.0 473.6 L70.5 473.2 L69.9 472.8 L69.3 472.5 L68.8 472.1 L68.2 471.7 L67.7 471.3 L67.2 470.9 L66.6 470.5 L66.1 470.1 L65.6 469.7 L65.1 469.3 L64.7 468.8 L64.2 468.4 L63.7 468.0 L63.3 467.5 L62.8 467.1 L62.4 466.6 L62.0 466.2 L61.6 465.7 L61.2 465.3 L60.8 464.8 L60.4 464.3 L60.0 463.9 L59.6 463.4 L59.2 462.9 L58.9 462.4 L58.6 462.0 L58.2 461.5 L57.9 461.0 L57.6 460.5 L57.3 460.0 L57.1 459.5 L56.8 459.0 L56.5 458.4 L56.3 457.9 L56.1 457.4 L55.9 456.9 L55.7 456.3 L55.5 455.8 L55.3 455.2 L55.1 454.7 L55.0 454.1 L54.8 453.6 L54.7 453.0 L54.6 452.4 L54.5 451.8 L54.4 451.3 L54.3 450.7 L54.2 450.1 L54.2 449.5 L54.1 448.9 L54.1 448.3 L54.1 447.6 L54.0 447.0 L54.0 446.4 L54.0 445.8 L54.1 445.2 L54.1 444.5 L54.1 443.9 L54.1 443.3 L54.2 442.6 L54.2 442.0 L54.3 441.3 L54.3 440.7 L54.4 440.0 L54.5 439.4 L54.6 438.7 L54.7 438.1 L54.8 437.4 L54.9 436.8 L55.1 436.1 L55.2 435.5 L55.4 434.8 L55.6 434.2 L55.7 433.5 L55.9 432.9 L56.1 432.2 L56.3 431.6 L56.5 430.9 L56.8 430.3 L57.0 429.6 L57.3 429.0 L57.5 428.4 L57.8 427.7 L58.0 427.1 L58.3 426.5 L58.6 425.9 L58.9 425.2 L59.2 424.6 L59.5 424.0 L59.8 423.4 L60.1 422.8 L60.5 422.2 L60.8 421.6 L61.2 421.1 L61.5 420.5 L61.9 419.9 L62.2 419.4 L62.6 418.8 L63.0 418.2 L63.3 417.7 L63.7 417.1 L64.1 416.6 L64.5 416.0 L64.9 415.5 L65.3 415.0 L65.7 414.5 L66.1 413.9 L66.5 413.4 L67.0 412.9 L67.4 412.4 L67.9 411.9 L68.3 411.4 L68.8 411.0 L69.2 410.5 L69.7 410.0 L70.2 409.5 L70.7 409.1 L71.2 408.6 L71.7 408.1 L72.2 407.7 L72.7 407.2 L73.2 406.8 L73.7 406.4 L74.2 405.9 L74.7 405.5 L75.3 405.1 L75.8 404.7 L76.4 404.3 L76.9 403.9 L77.5 403.5 L78.0 403.1 L78.6 402.7 L79.2 402.3 L79.7 401.9 L80.3 401.6 L80.9 401.2 L81.5 400.8 L82.1 400.5 L82.7 400.1 L83.3 399.7 L83.9 399.4 L84.5 399.0 L85.1 398.7 L85.7 398.4 L86.3 398.0 L86.9 397.7 L87.5 397.4 L88.2 397.1 L88.8 396.7 L89.4 396.4 L90.0 396.1 L90.7 395.8 L91.3 395.5 L92.0 395.2 L92.6 394.9 L93.2 394.6 L93.9 394.3 L94.5 394.0 L95.2 393.8 L95.8 393.5 L96.5 393.2 L97.1 392.9 L97.8 392.7 L98.4 392.4 L99.1 392.1 L99.7 391.9 L100.4 391.6 L101.0 391.4 L101.7 391.1 L102.3 390.9 L103.0 390.6 L103.6 390.4 L104.3 390.1 L104.9 389.9 L105.6 389.6 L106.3 389.4 L106.9 389.2 L107.6 389.0 L108.2 388.7 L108.9 388.5 L109.5 388.3 L110.2 388.1 L110.8 387.8 L111.5 387.6 L112.1 387.4 L112.7 387.2 L113.4 387.0 L114.0 386.8Z" fill="#070a0b"/>
<path d="M112.1 386.6 L112.9 386.6 L113.7 386.7 L114.5 386.8 L115.3 386.8 L116.1 386.8 L116.8 386.8 L117.6 386.8 L118.4 386.8 L119.1 386.8 L119.9 386.7 L120.6 386.6 L121.3 386.5 L122.0 386.4 L122.7 386.3 L123.5 386.2 L124.2 386.1 L124.9 385.9 L125.6 385.8 L126.2 385.6 L126.9 385.4 L127.6 385.2 L128.3 385.0 L128.9 384.8 L129.6 384.5 L130.3 384.3 L130.9 384.0 L131.6 383.8 L132.2 383.5 L132.9 383.3 L133.6 383.1 L134.3 382.8 L134.9 382.5 L135.6 382.3 L136.3 382.0 L136.9 381.7 L137.6 381.4 L138.2 381.1 L138.8 380.7 L139.4 380.2 L140.0 379.8 L140.6 379.4 L141.1 378.9 L141.7 378.5 L142.2 378.0 L142.8 377.6 L143.3 377.1 L143.9 376.6 L144.4 376.1 L145.0 375.7 L145.5 375.2 L146.0 374.7 L146.6 374.2 L147.1 373.7 L147.6 373.2 L148.1 372.7 L148.6 372.2 L149.2 371.7 L149.7 371.2 L150.2 370.7 L150.7 370.2 L151.2 369.7 L151.6 369.2 L152.1 368.6 L152.6 368.1 L153.1 367.6 L153.6 367.1 L154.1 366.6 L154.6 366.1 L155.1 365.5 L155.6 365.0 L156.1 364.5 L156.6 364.0 L157.1 363.5 L157.6 363.0 L158.1 362.5 L158.6 362.0 L159.0 361.6 L159.5 361.1 L160.0 360.6 L160.5 360.1 L161.0 359.6 L161.5 359.1 L162.0 358.7 L162.5 358.2 L163.0 357.8 L163.6 357.3 L164.1 356.9 L164.6 356.4 L165.1 356.0 L165.6 355.6 L166.2 355.1 L166.7 354.7 L167.2 354.3 L167.8 353.9 L168.3 353.5 L168.8 353.1 L169.4 352.8 L169.9 352.4 L170.5 352.0 L171.0 351.6 L171.6 351.3 L172.2 350.9 L172.8 350.6 L173.4 350.3 L174.0 350.0 L174.6 349.7 L175.2 349.4 L175.8 349.1 L176.4 348.9 L177.1 348.7 L177.8 348.5 L178.4 348.3 L179.1 348.2 L179.8 348.0 L180.5 347.9 L181.2 347.8 L181.9 347.7 L182.6 347.6 L183.3 347.5 L184.0 347.5 L184.7 347.4 L185.4 347.4 L186.1 347.4 L186.8 347.4 L187.5 347.5 L188.2 347.6 L188.9 347.6 L189.5 347.7 L190.2 347.8 L190.9 347.9 L191.6 348.0 L192.3 348.2 L192.9 348.3 L193.6 348.5 L194.3 348.7 L194.9 348.9 L195.5 349.1 L196.2 349.3 L196.8 349.6 L197.4 349.8 L198.0 350.1 L198.6 350.4 L199.1 350.7 L199.7 351.0 L200.3 351.3 L200.8 351.7 L201.3 352.0 L201.8 352.4 L202.3 352.7 L202.8 353.1 L203.3 353.5 L203.8 353.9 L204.2 354.3 L204.6 354.8 L205.0 355.2 L205.5 355.6 L205.8 356.1 L206.2 356.6 L206.6 357.0 L206.9 357.5 L207.3 358.0 L207.6 358.5 L207.9 359.0 L208.2 359.5 L208.5 360.0 L208.8 360.4 L209.1 360.9 L209.4 361.4 L209.6 361.9 L209.9 362.4 L210.1 362.9 L210.3 363.4 L210.5 363.9 L210.7 364.4 L210.9 364.9 L211.0 365.4 L211.2 365.9 L211.4 366.4 L211.6 366.9 L211.7 367.4 L211.8 367.9 L212.0 368.4 L212.1 369.0 L212.1 369.5 L212.2 370.0 L212.3 370.5 L212.3 371.0 L212.3 371.6 L212.3 372.1 L212.3 372.6 L212.3 373.2 L212.2 373.7 L212.1 374.3 L212.1 374.8 L211.9 375.4 L211.8 375.9 L211.7 376.5 L211.5 377.1 L211.3 377.7 L211.2 378.3 L210.9 378.9 L210.7 379.5 L210.4 380.0 L210.2 380.6 L209.9 381.2 L209.6 381.8 L209.3 382.4 L208.9 383.0 L208.6 383.6 L208.3 384.2 L207.9 384.8 L207.5 385.4 L207.2 385.9 L206.8 386.5 L206.4 387.1 L206.0 387.7 L205.5 388.2 L205.1 388.8 L204.7 389.3 L204.2 389.9 L203.8 390.4 L203.3 391.0 L202.9 391.5 L202.4 392.1 L202.0 392.6 L201.5 393.1 L201.0 393.7 L200.5 394.2 L200.1 394.7 L199.6 395.3 L199.1 395.8 L198.6 396.3 L198.1 396.8 L197.6 397.4 L197.1 397.9 L196.7 398.4 L196.2 398.9 L195.7 399.4 L195.2 399.9 L194.7 400.4 L194.2 401.0 L193.7 401.5 L193.2 402.0 L192.7 402.5 L192.2 403.0 L191.7 403.5 L191.2 404.0 L190.7 404.5 L190.2 405.0 L189.7 405.5 L189.2 406.0 L188.7 406.5 L188.2 407.0 L187.7 407.5 L187.2 408.0 L186.7 408.5 L186.2 409.0 L185.8 409.5 L185.3 410.0 L184.8 410.5 L184.3 411.0 L183.8 411.5 L183.3 412.0 L182.8 412.5 L182.4 413.0 L181.9 413.5 L181.4 414.0 L180.9 414.5 L180.4 415.0 L180.0 415.5 L179.5 416.0 L179.0 416.5 L178.5 417.1 L178.1 417.6 L177.6 418.1 L177.1 418.6 L176.6 419.1 L176.2 419.6 L175.7 420.1 L175.2 420.6 L174.8 421.1 L174.3 421.7 L173.8 422.2 L173.4 422.7 L172.9 423.2 L172.5 423.7 L172.0 424.3 L171.5 424.8 L171.1 425.3 L170.6 425.9 L170.2 426.4 L169.7 426.9 L169.3 427.5 L168.8 428.0 L168.4 428.5 L167.9 429.1 L167.5 429.6 L167.0 430.2 L166.6 430.7 L166.1 431.3 L165.7 431.8 L165.3 432.4 L164.8 433.0 L164.4 433.5 L163.9 434.1 L163.5 434.7 L163.1 435.2 L162.7 435.8 L162.2 436.4 L161.8 437.0 L161.4 437.5 L161.0 438.1 L160.6 438.7 L160.1 439.3 L159.7 439.9 L159.3 440.5 L158.9 441.0 L158.5 441.6 L158.1 442.2 L157.7 442.8 L157.2 443.4 L156.8 444.0 L156.4 444.6 L156.0 445.2 L155.6 445.7 L155.2 446.3 L154.8 446.9 L154.4 447.5 L154.0 448.1 L153.6 448.7 L153.1 449.3 L152.7 449.8 L152.3 450.4 L151.9 451.0 L151.5 451.6 L151.1 452.2 L150.7 452.7 L150.3 453.3 L149.9 453.9 L149.5 454.5 L149.0 455.0 L148.6 455.6 L148.2 456.2 L147.8 456.7 L147.4 457.3 L147.0 457.9 L146.6 458.4 L146.2 459.0 L145.7 459.5 L145.3 460.1 L144.9 460.6 L144.5 461.2 L144.1 461.7 L143.6 462.3 L143.2 462.8 L142.8 463.3 L142.3 463.8 L141.9 464.4 L141.4 464.9 L141.0 465.4 L140.6 465.9 L140.1 466.4 L139.7 466.9 L139.2 467.4 L138.8 467.9 L138.3 468.4 L137.9 468.9 L137.4 469.4 L136.9 469.9 L136.5 470.3 L136.0 470.8 L135.5 471.3 L135.0 471.7 L134.5 472.2 L134.0 472.6 L133.5 473.1 L133.0 473.5 L132.5 473.9 L132.0 474.4 L131.5 474.8 L131.0 475.2 L130.5 475.6 L129.9 476.0 L129.4 476.4 L128.8 476.8 L128.3 477.2 L127.7 477.6 L127.2 477.9 L126.6 478.3 L126.0 478.7 L125.4 479.0 L124.8 479.4 L124.2 479.7 L123.6 480.0 L123.0 480.3 L122.4 480.6 L121.7 480.9 L121.1 481.2 L120.4 481.4 L119.8 481.7 L119.1 481.9 L118.4 482.2 L117.8 482.4 L117.1 482.6 L117.2 483.1 L117.9 483.0 L118.6 482.8 L119.3 482.7 L120.0 482.5 L120.7 482.3 L121.4 482.1 L122.1 481.9 L122.8 481.7 L123.5 481.5 L124.2 481.2 L124.8 481.0 L125.5 480.8 L126.2 480.5 L126.8 480.2 L127.5 480.0 L128.1 479.7 L128.8 479.4 L129.4 479.1 L130.0 478.8 L130.7 478.5 L131.3 478.2 L131.9 477.9 L132.5 477.5 L133.1 477.2 L133.8 476.8 L134.3 476.4 L134.9 476.1 L135.5 475.7 L136.1 475.3 L136.7 474.9 L137.3 474.5 L137.8 474.1 L138.4 473.6 L139.0 473.2 L139.5 472.8 L140.1 472.3 L140.6 471.9 L141.2 471.4 L141.7 471.0 L142.3 470.5 L142.8 470.0 L143.3 469.5 L143.8 469.1 L144.3 468.6 L144.9 468.1 L145.4 467.5 L145.9 467.0 L146.4 466.5 L146.9 466.0 L147.3 465.5 L147.8 464.9 L148.3 464.4 L148.8 463.9 L149.3 463.3 L149.8 462.8 L150.2 462.3 L150.7 461.7 L151.2 461.2 L151.6 460.6 L152.1 460.1 L152.6 459.5 L153.0 458.9 L153.5 458.4 L153.9 457.8 L154.3 457.2 L154.8 456.6 L155.2 456.1 L155.7 455.5 L156.1 454.9 L156.5 454.3 L157.0 453.8 L157.4 453.2 L157.8 452.6 L158.2 452.0 L158.7 451.4 L159.1 450.9 L159.5 450.3 L159.9 449.7 L160.3 449.1 L160.8 448.5 L161.2 447.9 L161.6 447.4 L162.0 446.8 L162.4 446.2 L162.9 445.6 L163.3 445.0 L163.7 444.5 L164.1 443.9 L164.5 443.3 L164.9 442.8 L165.4 442.2 L165.8 441.6 L166.2 441.1 L166.6 440.5 L167.0 439.9 L167.4 439.4 L167.9 438.8 L168.3 438.3 L168.7 437.7 L169.1 437.2 L169.6 436.6 L170.0 436.1 L170.4 435.6 L170.8 435.0 L171.3 434.5 L171.7 433.9 L172.1 433.4 L172.5 432.9 L173.0 432.4 L173.4 431.8 L173.9 431.3 L174.3 430.8 L174.7 430.3 L175.2 429.8 L175.6 429.2 L176.1 428.7 L176.5 428.2 L177.0 427.7 L177.4 427.2 L177.9 426.7 L178.3 426.2 L178.8 425.7 L179.2 425.2 L179.7 424.7 L180.1 424.2 L180.6 423.7 L181.1 423.2 L181.5 422.7 L182.0 422.2 L182.4 421.7 L182.9 421.2 L183.4 420.7 L183.8 420.2 L184.3 419.7 L184.8 419.2 L185.3 418.7 L185.7 418.2 L186.2 417.7 L186.7 417.2 L187.2 416.7 L187.6 416.2 L188.1 415.7 L188.6 415.2 L189.1 414.7 L189.6 414.2 L190.0 413.7 L190.5 413.2 L191.0 412.7 L191.5 412.2 L192.0 411.7 L192.5 411.2 L193.0 410.7 L193.5 410.2 L194.0 409.7 L194.5 409.2 L195.0 408.7 L195.4 408.2 L195.9 407.7 L196.4 407.2 L196.9 406.7 L197.4 406.2 L197.9 405.7 L198.4 405.2 L199.0 404.7 L199.5 404.1 L200.0 403.6 L200.5 403.1 L201.0 402.6 L201.5 402.1 L202.0 401.5 L202.5 401.0 L203.0 400.5 L203.5 399.9 L204.0 399.4 L204.6 398.9 L205.1 398.3 L205.6 397.8 L206.1 397.2 L206.6 396.7 L207.1 396.1 L207.6 395.5 L208.0 394.9 L208.5 394.4 L209.0 393.8 L209.5 393.2 L210.0 392.6 L210.4 392.0 L210.9 391.4 L211.4 390.8 L211.8 390.2 L212.3 389.6 L212.8 389.0 L213.2 388.3 L213.7 387.7 L214.1 387.1 L214.5 386.4 L215.0 385.8 L215.4 385.1 L215.8 384.4 L216.2 383.8 L216.5 383.1 L216.9 382.4 L217.3 381.7 L217.6 381.0 L217.9 380.3 L218.3 379.6 L218.6 378.9 L218.8 378.2 L219.1 377.4 L219.4 376.7 L219.6 375.9 L219.8 375.2 L220.0 374.4 L220.1 373.6 L220.3 372.8 L220.4 372.0 L220.4 371.3 L220.5 370.5 L220.5 369.7 L220.5 368.9 L220.5 368.1 L220.4 367.3 L220.3 366.5 L220.2 365.7 L220.1 364.9 L220.0 364.1 L219.8 363.4 L219.6 362.6 L219.3 361.9 L219.0 361.1 L218.7 360.4 L218.3 359.7 L218.0 359.0 L217.6 358.3 L217.2 357.6 L216.8 356.9 L216.3 356.3 L215.9 355.6 L215.4 355.0 L214.9 354.4 L214.4 353.8 L213.8 353.2 L213.2 352.7 L212.7 352.2 L212.1 351.7 L211.4 351.2 L210.8 350.7 L210.2 350.2 L209.5 349.8 L208.9 349.3 L208.2 348.9 L207.5 348.5 L206.8 348.2 L206.1 347.8 L205.4 347.5 L204.7 347.2 L204.0 346.9 L203.3 346.6 L202.5 346.3 L201.8 346.1 L201.1 345.9 L200.3 345.6 L199.6 345.5 L198.8 345.3 L198.1 345.1 L197.3 345.0 L196.5 344.9 L195.8 344.8 L195.0 344.7 L194.3 344.6 L193.5 344.6 L192.7 344.5 L192.0 344.5 L191.2 344.5 L190.5 344.5 L189.7 344.5 L188.9 344.5 L188.2 344.6 L187.4 344.6 L186.7 344.7 L185.9 344.8 L185.2 344.9 L184.4 345.0 L183.7 345.1 L183.0 345.2 L182.2 345.3 L181.5 345.4 L180.8 345.6 L180.0 345.7 L179.3 345.9 L178.6 346.1 L177.9 346.3 L177.2 346.5 L176.5 346.7 L175.8 346.9 L175.1 347.1 L174.4 347.3 L173.7 347.6 L173.0 347.8 L172.4 348.0 L171.7 348.3 L171.0 348.5 L170.4 348.8 L169.7 349.1 L169.0 349.4 L168.4 349.7 L167.7 350.0 L167.1 350.3 L166.5 350.7 L165.8 351.0 L165.2 351.4 L164.6 351.7 L164.0 352.1 L163.4 352.5 L162.8 352.9 L162.2 353.3 L161.6 353.8 L161.1 354.2 L160.5 354.6 L159.9 355.0 L159.3 355.5 L158.8 355.9 L158.2 356.4 L157.6 356.8 L157.1 357.3 L156.5 357.8 L156.0 358.2 L155.4 358.7 L154.9 359.2 L154.4 359.7 L153.8 360.2 L153.3 360.7 L152.8 361.1 L152.2 361.6 L151.7 362.1 L151.2 362.6 L150.7 363.1 L150.2 363.6 L149.6 364.1 L149.1 364.6 L148.6 365.1 L148.1 365.6 L147.6 366.1 L147.1 366.6 L146.5 367.0 L146.0 367.5 L145.5 368.0 L145.0 368.5 L144.5 369.0 L144.0 369.5 L143.5 370.0 L143.0 370.5 L142.5 370.9 L142.0 371.4 L141.5 371.9 L141.0 372.3 L140.5 372.8 L140.0 373.3 L139.5 373.7 L139.0 374.1 L138.5 374.6 L137.9 375.0 L137.4 375.4 L136.9 375.8 L136.4 376.2 L135.9 376.6 L135.4 377.1 L134.9 377.5 L134.4 378.0 L133.9 378.5 L133.5 378.9 L133.0 379.4 L132.5 379.8 L132.0 380.3 L131.5 380.7 L131.0 381.1 L130.4 381.5 L129.9 381.9 L129.3 382.2 L128.7 382.5 L128.1 382.8 L127.5 383.1 L126.9 383.4 L126.3 383.7 L125.7 384.0 L125.1 384.2 L124.4 384.5 L123.8 384.7 L123.1 384.9 L122.5 385.1 L121.8 385.3 L121.1 385.4 L120.4 385.6 L119.7 385.7 L119.0 385.8 L118.3 385.9 L117.6 386.0 L116.8 386.0 L116.1 386.1 L115.3 386.1 L114.5 386.1 L113.8 386.1 L113.0 386.1 L112.2 386.1Z" fill="#070a0b"/>
<path d="M453.4 595.1 L453.0 595.7 L452.7 596.3 L452.4 596.9 L452.0 597.4 L451.7 598.0 L451.4 598.6 L451.0 599.2 L450.7 599.8 L450.3 600.3 L450.0 600.9 L449.6 601.5 L449.3 602.1 L448.9 602.6 L448.6 603.2 L448.2 603.8 L447.9 604.4 L447.5 605.0 L447.1 605.5 L446.8 606.1 L446.4 606.7 L446.1 607.3 L445.7 607.8 L445.3 608.4 L444.9 609.0 L444.6 609.6 L444.2 610.1 L443.8 610.7 L443.4 611.3 L443.0 611.9 L442.6 612.4 L442.2 613.0 L441.9 613.6 L441.5 614.2 L441.1 614.7 L440.7 615.3 L440.3 615.9 L439.9 616.5 L439.5 617.0 L439.1 617.6 L438.7 618.2 L438.3 618.8 L437.9 619.3 L437.5 619.9 L437.1 620.5 L436.7 621.1 L436.4 621.7 L436.0 622.3 L435.6 622.8 L435.2 623.4 L434.8 624.0 L434.4 624.6 L434.0 625.2 L433.6 625.8 L433.2 626.4 L432.8 626.9 L432.4 627.5 L432.0 628.1 L431.6 628.7 L431.2 629.3 L430.8 629.9 L430.4 630.5 L430.0 631.1 L429.7 631.7 L429.3 632.3 L428.9 632.9 L428.5 633.5 L428.1 634.1 L427.7 634.7 L427.3 635.3 L426.9 635.9 L426.5 636.5 L426.1 637.1 L425.8 637.7 L425.4 638.3 L425.0 638.9 L424.6 639.5 L424.2 640.1 L423.8 640.7 L423.5 641.3 L423.1 641.9 L422.7 642.5 L422.3 643.1 L422.0 643.7 L421.6 644.4 L421.2 645.0 L420.8 645.6 L420.5 646.2 L420.1 646.8 L419.7 647.5 L419.4 648.1 L419.0 648.7 L418.7 649.3 L418.3 650.0 L417.9 650.6 L417.6 651.2 L417.2 651.8 L416.9 652.5 L416.5 653.1 L416.2 653.7 L415.8 654.4 L415.5 655.0 L415.2 655.7 L414.8 656.3 L414.5 656.9 L414.2 657.6 L413.9 658.2 L413.5 658.9 L413.2 659.5 L412.9 660.2 L412.6 660.8 L412.3 661.5 L412.0 662.1 L411.7 662.8 L411.4 663.5 L411.1 664.1 L410.8 664.8 L410.5 665.4 L410.2 666.1 L409.9 666.8 L409.6 667.5 L409.4 668.1 L409.1 668.8 L408.8 669.5 L408.6 670.2 L408.3 670.8 L408.1 671.5 L407.8 672.2 L407.6 672.9 L407.3 673.6 L407.1 674.3 L406.9 675.0 L406.7 675.7 L406.4 676.4 L406.2 677.1 L406.0 677.8 L405.8 678.5 L405.6 679.2 L405.4 679.9 L405.2 680.6 L405.0 681.3 L404.9 682.0 L404.7 682.7 L404.5 683.5 L404.4 684.2 L404.2 684.9 L404.1 685.6 L404.0 686.4 L403.8 687.1 L403.7 687.8 L403.6 688.5 L403.5 689.3 L403.4 690.0 L403.3 690.7 L403.2 691.5 L403.1 692.2 L403.0 693.0 L402.9 693.7 L402.8 694.4 L402.8 695.2 L402.7 695.9 L402.6 696.6 L402.6 697.4 L402.5 698.1 L402.5 698.9 L402.5 699.6 L402.4 700.4 L402.4 701.1 L402.4 701.9 L402.4 702.6 L402.3 703.3 L402.3 704.1 L402.3 704.8 L402.3 705.6 L402.4 706.3 L402.4 707.1 L402.4 707.8 L402.4 708.6 L402.4 709.3 L402.5 710.1 L402.5 710.8 L402.6 711.5 L402.6 712.3 L402.7 713.0 L402.7 713.8 L402.8 714.5 L402.9 715.3 L403.0 716.0 L403.0 716.8 L403.1 717.5 L403.2 718.2 L403.3 719.0 L403.4 719.7 L403.5 720.5 L403.7 721.2 L403.8 721.9 L403.9 722.7 L404.1 723.4 L404.2 724.1 L404.3 724.9 L404.5 725.6 L404.7 726.3 L404.8 727.1 L405.0 727.8 L405.2 728.5 L405.3 729.2 L405.5 730.0 L405.7 730.7 L405.9 731.4 L406.1 732.1 L406.3 732.9 L406.5 733.6 L406.7 734.3 L406.9 735.0 L407.1 735.7 L407.4 736.4 L407.6 737.1 L407.8 737.8 L408.1 738.5 L408.3 739.2 L408.6 739.9 L408.8 740.6 L409.1 741.3 L409.3 742.0 L409.6 742.7 L409.9 743.4 L410.2 744.1 L410.4 744.8 L410.7 745.4 L411.0 746.1 L411.3 746.8 L411.6 747.5 L411.9 748.1 L412.2 748.8 L412.5 749.5 L412.9 750.1 L413.2 750.8 L413.5 751.5 L413.9 752.1 L414.2 752.8 L414.5 753.4 L414.9 754.1 L415.2 754.7 L415.6 755.3 L415.9 756.0 L416.3 756.6 L416.7 757.2 L417.1 757.9 L417.4 758.5 L417.8 759.1 L418.2 759.7 L418.6 760.3 L419.0 760.9 L419.4 761.6 L419.8 762.2 L420.2 762.8 L420.6 763.3 L421.1 763.9 L421.5 764.5 L421.9 765.1 L422.4 765.7 L422.8 766.2 L423.3 766.8 L423.7 767.4 L424.2 767.9 L424.6 768.5 L425.1 769.0 L425.6 769.6 L426.0 770.1 L426.5 770.7 L427.0 771.2 L427.5 771.7 L428.0 772.2 L428.5 772.8 L429.0 773.3 L429.5 773.8 L430.0 774.3 L430.5 774.8 L431.0 775.3 L431.5 775.8 L432.0 776.3 L432.6 776.7 L433.1 777.2 L433.6 777.7 L434.2 778.2 L434.7 778.6 L435.3 779.1 L435.8 779.5 L436.4 780.0 L436.9 780.4 L437.5 780.8 L438.1 781.2 L438.7 781.7 L439.2 782.1 L439.8 782.5 L440.4 782.8 L441.0 783.2 L441.6 783.6 L442.2 784.0 L442.8 784.3 L443.4 784.7 L444.1 785.0 L444.7 785.4 L445.3 785.7 L445.9 786.1 L446.5 786.4 L447.2 786.7 L447.8 787.0 L448.4 787.4 L449.1 787.7 L449.7 788.0 L450.3 788.3 L451.0 788.6 L451.6 788.8 L452.3 789.1 L452.9 789.4 L453.6 789.7 L454.2 789.9 L454.9 790.2 L455.6 790.4 L456.2 790.7 L456.9 790.9 L457.5 791.1 L458.2 791.4 L458.9 791.6 L459.6 791.8 L460.2 792.0 L460.9 792.2 L461.6 792.4 L462.3 792.6 L462.9 792.8 L463.6 793.0 L464.3 793.1 L465.0 793.3 L465.7 793.5 L466.4 793.6 L467.1 793.8 L467.8 793.9 L468.5 794.1 L469.2 794.2 L469.9 794.4 L470.6 794.5 L471.2 794.6 L471.9 794.7 L472.7 794.8 L473.4 794.9 L474.1 795.0 L474.8 795.1 L475.5 795.2 L476.2 795.3 L476.9 795.4 L477.6 795.5 L478.3 795.5 L479.0 795.6 L479.7 795.7 L480.4 795.8 L481.1 795.8 L481.8 795.9 L482.6 795.9 L483.3 796.0 L484.0 796.0 L484.7 796.1 L485.4 796.1 L486.1 796.1 L486.8 796.2 L487.6 796.2 L488.3 796.2 L489.0 796.2 L489.7 796.2 L490.4 796.2 L491.1 796.2 L491.9 796.2 L492.6 796.2 L493.3 796.2 L494.0 796.2 L494.7 796.1 L495.5 796.1 L496.2 796.1 L496.9 796.0 L497.6 796.0 L498.3 795.9 L499.1 795.9 L499.8 795.8 L500.5 795.7 L501.2 795.7 L501.9 795.6 L502.6 795.5 L503.4 795.5 L504.1 795.4 L504.8 795.3 L505.5 795.2 L506.2 795.1 L506.9 795.0 L507.7 794.9 L508.4 794.8 L509.1 794.6 L509.8 794.5 L510.5 794.4 L511.2 794.2 L511.9 794.1 L512.6 794.0 L513.3 793.8 L514.1 793.7 L514.8 793.5 L515.5 793.3 L516.2 793.2 L516.9 793.0 L517.6 792.8 L518.3 792.7 L519.0 792.5 L519.7 792.3 L520.4 792.1 L521.1 791.9 L521.8 791.7 L522.5 791.5 L523.2 791.4 L523.9 791.2 L524.6 791.0 L525.3 790.7 L525.9 790.5 L526.6 790.3 L527.3 790.1 L528.0 789.9 L528.7 789.6 L529.4 789.4 L530.1 789.2 L530.7 788.9 L531.4 788.7 L532.1 788.4 L532.8 788.1 L533.4 787.9 L534.1 787.6 L534.8 787.3 L535.4 787.1 L536.1 786.8 L536.8 786.5 L537.4 786.2 L538.1 785.9 L538.7 785.6 L539.4 785.3 L540.1 785.0 L540.7 784.7 L541.4 784.4 L542.0 784.0 L542.7 783.7 L543.3 783.4 L543.9 783.1 L544.6 782.7 L545.2 782.4 L545.8 782.1 L546.5 781.7 L547.1 781.4 L547.7 781.0 L548.4 780.7 L549.0 780.3 L549.6 779.9 L550.2 779.5 L550.8 779.2 L551.4 778.8 L552.0 778.4 L552.6 778.0 L553.2 777.6 L553.8 777.2 L554.4 776.8 L555.0 776.4 L555.6 776.0 L556.2 775.5 L556.8 775.1 L557.4 774.7 L557.9 774.3 L558.5 773.8 L559.1 773.4 L559.6 772.9 L560.2 772.5 L560.7 772.0 L561.3 771.6 L561.8 771.1 L562.4 770.6 L562.9 770.2 L563.5 769.7 L564.0 769.2 L564.6 768.7 L565.1 768.3 L565.6 767.8 L566.2 767.3 L566.7 766.8 L567.2 766.3 L567.7 765.8 L568.2 765.3 L568.7 764.7 L569.2 764.2 L569.7 763.7 L570.2 763.2 L570.7 762.6 L571.2 762.1 L571.7 761.6 L572.2 761.0 L572.7 760.5 L573.1 759.9 L573.6 759.4 L574.1 758.8 L574.5 758.3 L575.0 757.7 L575.4 757.1 L575.9 756.6 L576.3 756.0 L576.7 755.4 L577.2 754.8 L577.6 754.2 L578.0 753.6 L578.4 753.0 L578.9 752.4 L579.3 751.8 L579.7 751.2 L580.1 750.6 L580.4 750.0 L580.8 749.4 L581.2 748.8 L581.6 748.1 L582.0 747.5 L582.3 746.9 L582.7 746.3 L583.0 745.6 L583.4 745.0 L583.7 744.3 L584.1 743.7 L584.4 743.1 L584.8 742.4 L585.1 741.8 L585.4 741.1 L585.7 740.4 L586.1 739.8 L586.4 739.1 L586.7 738.5 L587.0 737.8 L587.3 737.1 L587.6 736.5 L587.9 735.8 L588.1 735.1 L588.4 734.4 L588.7 733.8 L589.0 733.1 L589.2 732.4 L589.5 731.7 L589.7 731.0 L590.0 730.3 L590.2 729.6 L590.4 729.0 L590.6 728.3 L590.9 727.6 L591.1 726.9 L591.3 726.2 L591.5 725.5 L591.7 724.8 L591.9 724.1 L592.1 723.4 L592.3 722.6 L592.5 721.9 L592.6 721.2 L592.8 720.5 L593.0 719.8 L593.1 719.1 L593.3 718.4 L593.4 717.7 L593.6 717.0 L593.7 716.2 L593.8 715.5 L594.0 714.8 L594.1 714.1 L594.2 713.4 L594.3 712.6 L594.4 711.9 L594.5 711.2 L594.6 710.5 L594.6 709.7 L594.7 709.0 L594.8 708.3 L594.8 707.6 L594.9 706.8 L594.9 706.1 L595.0 705.4 L595.0 704.7 L595.0 703.9 L595.0 703.2 L595.1 702.5 L595.1 701.7 L595.1 701.0 L595.1 700.3 L595.1 699.6 L595.1 698.8 L595.0 698.1 L595.0 697.4 L595.0 696.7 L595.0 695.9 L594.9 695.2 L594.9 694.5 L594.8 693.8 L594.8 693.0 L594.7 692.3 L594.6 691.6 L594.5 690.9 L594.5 690.2 L594.4 689.4 L594.3 688.7 L594.2 688.0 L594.1 687.3 L594.0 686.6 L593.8 685.8 L593.7 685.1 L593.6 684.4 L593.4 683.7 L593.3 683.0 L593.2 682.3 L593.0 681.6 L592.8 680.9 L592.7 680.2 L592.5 679.5 L592.3 678.8 L592.1 678.1 L591.9 677.4 L591.7 676.7 L591.5 676.0 L583.9 678.2 L584.1 678.9 L584.2 679.5 L584.4 680.1 L584.6 680.8 L584.7 681.4 L584.9 682.0 L585.0 682.7 L585.2 683.3 L585.3 684.0 L585.5 684.6 L585.6 685.3 L585.7 685.9 L585.8 686.5 L585.9 687.2 L586.1 687.8 L586.2 688.5 L586.3 689.1 L586.3 689.8 L586.4 690.4 L586.5 691.1 L586.6 691.7 L586.7 692.4 L586.7 693.1 L586.8 693.7 L586.8 694.4 L586.9 695.0 L586.9 695.7 L587.0 696.4 L587.0 697.0 L587.0 697.7 L587.0 698.3 L587.1 699.0 L587.1 699.7 L587.1 700.3 L587.1 701.0 L587.1 701.7 L587.1 702.3 L587.1 703.0 L587.0 703.7 L587.0 704.3 L587.0 705.0 L586.9 705.6 L586.9 706.3 L586.9 707.0 L586.8 707.6 L586.7 708.3 L586.7 709.0 L586.6 709.6 L586.5 710.3 L586.5 711.0 L586.4 711.6 L586.3 712.3 L586.3 713.0 L586.2 713.6 L586.1 714.3 L586.0 715.0 L585.9 715.6 L585.8 716.3 L585.7 717.0 L585.6 717.6 L585.5 718.3 L585.4 719.0 L585.2 719.6 L585.1 720.3 L585.0 720.9 L584.8 721.6 L584.7 722.3 L584.5 722.9 L584.4 723.6 L584.2 724.2 L584.1 724.9 L583.9 725.5 L583.7 726.2 L583.5 726.9 L583.4 727.5 L583.2 728.2 L583.0 728.8 L582.8 729.5 L582.6 730.1 L582.4 730.8 L582.2 731.4 L581.9 732.1 L581.7 732.7 L581.5 733.3 L581.3 734.0 L581.0 734.6 L580.8 735.3 L580.6 735.9 L580.3 736.5 L580.1 737.2 L579.8 737.8 L579.6 738.4 L579.3 739.1 L579.0 739.7 L578.8 740.3 L578.5 740.9 L578.2 741.6 L577.9 742.2 L577.6 742.8 L577.3 743.4 L577.0 744.0 L576.7 744.6 L576.4 745.3 L576.1 745.9 L575.8 746.5 L575.4 747.1 L575.1 747.7 L574.8 748.3 L574.4 748.9 L574.1 749.5 L573.8 750.0 L573.4 750.6 L573.1 751.2 L572.7 751.8 L572.3 752.4 L572.0 753.0 L571.6 753.6 L571.2 754.1 L570.9 754.7 L570.5 755.3 L570.1 755.9 L569.7 756.4 L569.3 757.0 L568.9 757.5 L568.5 758.1 L568.1 758.7 L567.7 759.2 L567.3 759.8 L566.9 760.3 L566.4 760.8 L566.0 761.4 L565.6 761.9 L565.1 762.4 L564.7 763.0 L564.3 763.5 L563.8 764.0 L563.4 764.5 L562.9 765.0 L562.4 765.6 L562.0 766.1 L561.5 766.6 L561.0 767.1 L560.5 767.6 L560.0 768.1 L559.5 768.5 L559.0 769.0 L558.5 769.5 L558.0 769.9 L557.5 770.4 L557.0 770.9 L556.5 771.3 L555.9 771.8 L555.4 772.2 L554.9 772.7 L554.3 773.1 L553.8 773.5 L553.2 774.0 L552.7 774.4 L552.1 774.8 L551.6 775.2 L551.0 775.6 L550.4 776.0 L549.9 776.4 L549.3 776.8 L548.7 777.2 L548.1 777.6 L547.6 778.0 L547.0 778.4 L546.4 778.8 L545.8 779.2 L545.2 779.5 L544.6 779.9 L544.0 780.3 L543.4 780.6 L542.8 781.0 L542.2 781.3 L541.6 781.7 L541.0 782.0 L540.3 782.4 L539.7 782.7 L539.1 783.0 L538.5 783.3 L537.8 783.6 L537.2 783.9 L536.5 784.3 L535.9 784.5 L535.3 784.8 L534.6 785.1 L534.0 785.4 L533.3 785.7 L532.7 786.0 L532.0 786.2 L531.4 786.5 L530.7 786.8 L530.0 787.0 L529.4 787.3 L528.7 787.5 L528.0 787.8 L527.4 788.0 L526.7 788.2 L526.0 788.5 L525.4 788.7 L524.7 788.9 L524.0 789.1 L523.3 789.4 L522.6 789.6 L522.0 789.8 L521.3 790.0 L520.6 790.2 L519.9 790.4 L519.2 790.5 L518.5 790.7 L517.8 790.9 L517.1 791.0 L516.4 791.2 L515.8 791.3 L515.1 791.4 L514.4 791.6 L513.7 791.7 L513.0 791.8 L512.3 792.0 L511.6 792.1 L510.9 792.2 L510.2 792.3 L509.5 792.4 L508.8 792.5 L508.1 792.6 L507.3 792.7 L506.6 792.8 L505.9 792.8 L505.2 792.9 L504.5 793.0 L503.8 793.0 L503.1 793.1 L502.4 793.2 L501.7 793.2 L501.0 793.3 L500.3 793.3 L499.6 793.3 L498.9 793.4 L498.2 793.4 L497.5 793.4 L496.8 793.4 L496.1 793.4 L495.4 793.4 L494.7 793.4 L494.0 793.4 L493.3 793.4 L492.6 793.4 L491.9 793.4 L491.2 793.3 L490.5 793.3 L489.8 793.3 L489.1 793.2 L488.4 793.2 L487.7 793.1 L487.0 793.1 L486.3 793.0 L485.6 793.0 L484.9 792.9 L484.3 792.8 L483.6 792.7 L482.9 792.6 L482.2 792.6 L481.5 792.5 L480.8 792.4 L480.2 792.3 L479.5 792.2 L478.8 792.0 L478.1 791.9 L477.5 791.8 L476.8 791.6 L476.1 791.5 L475.5 791.3 L474.8 791.2 L474.1 791.0 L473.5 790.8 L472.8 790.7 L472.2 790.5 L471.5 790.3 L470.9 790.1 L470.2 789.9 L469.6 789.7 L468.9 789.5 L468.3 789.3 L467.6 789.1 L467.0 788.9 L466.4 788.7 L465.7 788.4 L465.1 788.2 L464.5 788.0 L463.9 787.7 L463.3 787.5 L462.6 787.3 L462.0 787.0 L461.4 786.7 L460.8 786.5 L460.2 786.2 L459.6 786.0 L459.0 785.7 L458.4 785.4 L457.8 785.1 L457.2 784.8 L456.6 784.5 L456.0 784.2 L455.5 783.9 L454.9 783.6 L454.3 783.3 L453.7 783.0 L453.2 782.7 L452.6 782.4 L452.1 782.0 L451.5 781.7 L451.0 781.4 L450.4 781.0 L449.9 780.7 L449.3 780.3 L448.8 780.0 L448.3 779.6 L447.7 779.2 L447.2 778.9 L446.7 778.5 L446.2 778.1 L445.6 777.7 L445.1 777.3 L444.6 776.9 L444.1 776.5 L443.6 776.1 L443.1 775.7 L442.6 775.3 L442.2 774.9 L441.7 774.5 L441.2 774.1 L440.7 773.7 L440.2 773.3 L439.7 772.8 L439.3 772.4 L438.8 772.0 L438.3 771.5 L437.9 771.1 L437.4 770.6 L437.0 770.2 L436.5 769.7 L436.1 769.2 L435.6 768.8 L435.2 768.3 L434.8 767.8 L434.3 767.3 L433.9 766.9 L433.5 766.4 L433.1 765.9 L432.6 765.4 L432.2 764.9 L431.8 764.4 L431.4 763.9 L431.0 763.3 L430.6 762.8 L430.2 762.3 L429.8 761.8 L429.5 761.2 L429.1 760.7 L428.7 760.2 L428.3 759.6 L428.0 759.1 L427.6 758.5 L427.3 758.0 L426.9 757.4 L426.5 756.9 L426.2 756.3 L425.8 755.8 L425.5 755.2 L425.2 754.6 L424.8 754.1 L424.5 753.5 L424.2 752.9 L423.8 752.3 L423.5 751.8 L423.2 751.2 L422.9 750.6 L422.6 750.0 L422.3 749.4 L422.0 748.8 L421.7 748.2 L421.4 747.6 L421.1 747.0 L420.8 746.4 L420.5 745.8 L420.3 745.2 L420.0 744.5 L419.7 743.9 L419.5 743.3 L419.2 742.7 L419.0 742.0 L418.7 741.4 L418.5 740.8 L418.2 740.2 L418.0 739.5 L417.8 738.9 L417.5 738.2 L417.3 737.6 L417.1 737.0 L416.9 736.3 L416.7 735.7 L416.5 735.0 L416.3 734.4 L416.1 733.7 L415.9 733.1 L415.7 732.4 L415.5 731.8 L415.4 731.1 L415.2 730.4 L415.0 729.8 L414.9 729.1 L414.7 728.4 L414.5 727.8 L414.4 727.1 L414.2 726.5 L414.1 725.8 L414.0 725.1 L413.8 724.4 L413.7 723.8 L413.6 723.1 L413.5 722.4 L413.3 721.8 L413.2 721.1 L413.1 720.4 L413.0 719.7 L412.9 719.1 L412.8 718.4 L412.7 717.7 L412.7 717.0 L412.6 716.3 L412.5 715.7 L412.4 715.0 L412.3 714.3 L412.3 713.6 L412.2 713.0 L412.2 712.3 L412.1 711.6 L412.1 710.9 L412.0 710.2 L412.0 709.6 L411.9 708.9 L411.9 708.2 L411.9 707.5 L411.9 706.8 L411.9 706.2 L411.8 705.5 L411.8 704.8 L411.8 704.1 L411.8 703.4 L411.9 702.8 L411.9 702.1 L411.9 701.4 L411.9 700.7 L411.9 700.1 L412.0 699.4 L412.0 698.7 L412.1 698.0 L412.1 697.4 L412.2 696.7 L412.2 696.0 L412.3 695.4 L412.3 694.7 L412.4 694.0 L412.5 693.4 L412.6 692.7 L412.7 692.0 L412.8 691.4 L412.9 690.7 L413.0 690.0 L413.1 689.4 L413.2 688.7 L413.3 688.1 L413.4 687.4 L413.5 686.8 L413.7 686.1 L413.8 685.5 L414.0 684.8 L414.1 684.2 L414.2 683.5 L414.4 682.9 L414.5 682.2 L414.7 681.6 L414.9 680.9 L415.0 680.3 L415.2 679.7 L415.4 679.0 L415.6 678.4 L415.8 677.7 L415.9 677.1 L416.1 676.5 L416.3 675.8 L416.5 675.2 L416.8 674.6 L417.0 673.9 L417.2 673.3 L417.4 672.7 L417.6 672.0 L417.9 671.4 L418.1 670.8 L418.3 670.1 L418.6 669.5 L418.8 668.9 L419.1 668.3 L419.3 667.6 L419.6 667.0 L419.8 666.4 L420.1 665.8 L420.4 665.1 L420.6 664.5 L420.9 663.9 L421.2 663.3 L421.5 662.7 L421.8 662.0 L422.0 661.4 L422.3 660.8 L422.6 660.2 L422.9 659.6 L423.2 658.9 L423.5 658.3 L423.8 657.7 L424.1 657.1 L424.5 656.5 L424.8 655.9 L425.1 655.3 L425.4 654.7 L425.7 654.0 L426.1 653.4 L426.4 652.8 L426.7 652.2 L427.0 651.6 L427.4 651.0 L427.7 650.4 L428.1 649.8 L428.4 649.2 L428.7 648.6 L429.1 648.0 L429.4 647.4 L429.8 646.8 L430.1 646.2 L430.5 645.5 L430.8 644.9 L431.2 644.3 L431.5 643.7 L431.9 643.1 L432.3 642.5 L432.6 641.9 L433.0 641.3 L433.4 640.7 L433.7 640.1 L434.1 639.5 L434.5 638.9 L434.8 638.3 L435.2 637.7 L435.6 637.1 L435.9 636.5 L436.3 635.9 L436.7 635.4 L437.1 634.8 L437.4 634.2 L437.8 633.6 L438.2 633.0 L438.6 632.4 L438.9 631.8 L439.3 631.2 L439.7 630.6 L440.1 630.0 L440.4 629.4 L440.8 628.8 L441.2 628.2 L441.6 627.6 L442.0 627.0 L442.3 626.4 L442.7 625.9 L443.1 625.3 L443.5 624.7 L443.9 624.1 L444.2 623.5 L444.6 622.9 L445.0 622.3 L445.4 621.7 L445.7 621.1 L446.1 620.5 L446.5 619.9 L446.8 619.3 L447.2 618.7 L447.6 618.1 L447.9 617.5 L448.3 616.9 L448.7 616.3 L449.1 615.8 L449.4 615.2 L449.8 614.6 L450.1 614.0 L450.5 613.4 L450.9 612.8 L451.2 612.2 L451.6 611.6 L452.0 611.0 L452.4 610.4 L452.7 609.8 L453.1 609.2 L453.5 608.7 L453.8 608.1 L454.2 607.5 L454.5 606.9 L454.9 606.3 L455.3 605.7 L455.6 605.1 L456.0 604.5 L456.3 603.9 L456.7 603.3 L457.0 602.7 L457.4 602.1 L457.7 601.6 L458.1 601.0 L458.4 600.4 L458.8 599.8 L459.1 599.2 L459.5 598.6Z" fill="#070a0b"/>
<circle cx="797.5" cy="420" r="86" fill="#e30613"/>
<path d="M743.5 299.5 L801.5 380.5" fill="none" stroke="#1d1d1b" stroke-width="4.5" stroke-linecap="butt" stroke-linejoin="round"/>
<path d="M622.1 316.0 L621.9 317.0 L621.7 318.0 L621.6 319.0 L621.4 320.0 L621.2 321.0 L621.1 322.0 L620.9 322.9 L620.7 323.9 L620.6 324.9 L620.4 325.9 L620.3 326.9 L620.1 327.9 L619.9 328.9 L619.8 329.9 L619.6 330.9 L619.4 331.8 L619.3 332.8 L619.1 333.8 L618.9 334.8 L618.8 335.8 L618.6 336.8 L618.5 337.8 L618.3 338.8 L618.1 339.8 L618.0 340.8 L617.8 341.8 L617.7 342.7 L617.5 343.7 L617.3 344.7 L617.2 345.7 L617.0 346.7 L616.8 347.7 L616.7 348.7 L616.5 349.7 L616.4 350.7 L616.2 351.7 L616.0 352.6 L615.9 353.6 L615.7 354.6 L615.6 355.6 L615.4 356.6 L615.2 357.6 L615.1 358.6 L614.9 359.6 L614.8 360.6 L614.6 361.6 L614.4 362.6 L614.3 363.5 L614.1 364.5 L614.0 365.5 L613.8 366.5 L613.7 367.5 L613.5 368.5 L613.3 369.5 L613.2 370.5 L613.0 371.5 L612.9 372.5 L612.7 373.5 L612.6 374.4 L612.4 375.4 L612.2 376.4 L612.1 377.4 L611.9 378.4 L611.8 379.4 L611.6 380.4 L611.5 381.4 L611.3 382.4 L611.2 383.4 L611.0 384.4 L610.8 385.3 L610.7 386.3 L610.5 387.3 L610.4 388.3 L610.2 389.3 L610.1 390.3 L609.9 391.3 L609.8 392.3 L609.6 393.3 L609.5 394.3 L609.3 395.3 L609.2 396.3 L609.0 397.3 L608.8 398.2 L608.7 399.2 L608.5 400.2 L608.4 401.2 L608.2 402.2 L608.1 403.2 L607.9 404.2 L607.8 405.2 L607.6 406.2 L607.5 407.2 L607.3 408.2 L607.2 409.2 L607.0 410.1 L606.9 411.1 L606.7 412.1 L606.6 413.1 L606.4 414.1 L606.3 415.1 L606.1 416.1 L606.0 417.1 L605.8 418.1 L605.7 419.1 L605.5 420.1 L605.4 421.1 L605.3 422.1 L605.1 423.1 L605.0 424.0 L604.8 425.0 L604.7 426.0 L604.5 427.0 L604.4 428.0 L604.2 429.0 L604.1 430.0 L603.9 431.0 L603.8 432.0 L603.7 433.0 L603.5 434.0 L603.4 435.0 L603.2 436.0 L603.1 437.0 L602.9 437.9 L602.8 438.9 L602.6 439.9 L602.5 440.9 L602.4 441.9 L602.2 442.9 L602.1 443.9 L601.9 444.9 L601.8 445.9 L601.7 446.9 L601.5 447.9 L601.4 448.9 L601.2 449.9 L601.1 450.9 L601.0 451.9 L600.8 452.9 L600.7 453.8 L600.5 454.8 L600.4 455.8 L600.3 456.8 L600.1 457.8 L600.0 458.8 L599.8 459.8 L599.7 460.8 L599.6 461.8 L599.4 462.8 L599.3 463.8 L599.2 464.8 L599.0 465.8 L598.9 466.8 L598.8 467.8 L598.6 468.8 L598.5 469.8 L598.4 470.7 L598.2 471.7 L598.1 472.7 L598.0 473.7 L597.8 474.7 L597.7 475.7 L597.6 476.7 L597.4 477.7 L597.3 478.7 L597.2 479.7 L597.0 480.7 L596.9 481.7 L596.8 482.7 L596.6 483.7 L596.5 484.7 L596.4 485.7 L596.2 486.7 L596.1 487.7 L596.0 488.7 L595.9 489.7 L595.7 490.6 L595.6 491.6 L595.5 492.6 L595.3 493.6 L595.2 494.6 L595.1 495.6 L595.0 496.6 L594.8 497.6 L594.7 498.6 L594.6 499.6 L594.5 500.6 L594.3 501.6 L594.2 502.6 L594.1 503.6 L594.0 504.6 L593.8 505.6 L593.7 506.6 L593.6 507.6 L593.5 508.6 L593.4 509.6 L593.2 510.6 L593.1 511.6 L593.0 512.6 L592.9 513.6 L592.8 514.5 L592.6 515.5 L592.5 516.5 L592.4 517.5 L592.3 518.5 L592.2 519.5 L592.0 520.5 L591.9 521.5 L591.8 522.5 L591.7 523.5 L591.6 524.5 L591.5 525.5 L591.3 526.5 L591.2 527.5 L591.1 528.5 L591.0 529.5 L590.9 530.5 L590.8 531.5 L590.7 532.5 L590.5 533.5 L590.4 534.5 L590.3 535.5 L590.2 536.5 L590.1 537.5 L590.0 538.5 L589.9 539.5 L589.8 540.5 L589.6 541.5 L589.5 542.5 L589.4 543.5 L589.3 544.5 L589.2 545.5 L589.1 546.5 L589.0 547.5 L588.9 548.5 L588.8 549.5 L588.7 550.5 L588.6 551.4 L588.5 552.4 L588.4 553.4 L588.3 554.4 L588.1 555.4 L588.0 556.4 L587.9 557.4 L587.8 558.4 L587.7 559.4 L587.6 560.4 L587.5 561.4 L587.4 562.4 L587.3 563.4 L587.2 564.4 L587.1 565.4 L587.0 566.4 L586.9 567.4 L586.8 568.4 L586.7 569.4 L586.6 570.4 L586.5 571.4 L586.4 572.4 L586.3 573.4 L586.2 574.4 L586.1 575.4 L586.0 576.4 L585.9 577.4 L585.9 578.4 L585.8 579.4 L585.7 580.4 L585.6 581.4 L585.5 582.4 L585.4 583.4 L585.3 584.4 L585.2 585.4 L585.1 586.4 L585.7 587.2 L586.4 587.9 L587.0 588.7 L587.7 589.4 L588.4 590.2 L589.0 591.0 L589.7 591.7 L590.3 592.5 L591.0 593.3 L591.6 594.1 L592.3 594.9 L592.9 595.7 L593.5 596.5 L594.1 597.3 L594.8 598.2 L595.4 599.0 L596.0 599.8 L596.6 600.6 L597.2 601.4 L597.8 602.3 L598.4 603.1 L599.0 603.9 L599.6 604.8 L600.2 605.6 L600.8 606.5 L601.4 607.3 L602.0 608.1 L602.6 609.0 L603.2 609.8 L603.8 610.7 L604.4 611.5 L605.0 612.3 L605.6 613.2 L606.2 614.0 L606.8 614.9 L607.4 615.7 L608.0 616.5 L608.6 617.4 L609.2 618.2 L609.9 619.0 L610.5 619.8 L611.1 620.6 L611.7 621.5 L612.3 622.3 L613.0 623.1 L613.6 623.9 L614.2 624.7 L614.9 625.5 L615.5 626.3 L616.2 627.1 L616.8 627.8 L617.5 628.6 L618.2 629.4 L618.8 630.1 L619.5 630.9 L620.2 631.6 L620.9 632.4 L621.6 633.1 L622.3 633.8 L623.0 634.6 L623.7 635.3 L624.4 636.0 L625.2 636.7 L625.9 637.3 L626.7 638.0 L627.4 638.7 L628.2 639.3 L629.0 640.0 L629.8 640.6 L630.6 641.2 L631.4 641.8 L632.2 642.4 L633.0 643.0 L633.9 643.6 L634.7 644.2 L635.6 644.7 L636.5 645.3 L637.3 645.8 L638.2 646.3 L639.1 646.8 L640.1 647.3 L641.0 647.8 L641.9 648.3 L642.9 648.7 L643.9 649.2 L644.9 649.6 L645.5 649.3 L646.2 648.4 L646.9 647.5 L647.7 646.7 L648.4 645.8 L649.2 645.0 L650.1 644.3 L650.9 643.6 L651.8 642.9 L652.7 642.2 L653.5 641.6 L654.5 641.0 L655.4 640.5 L656.3 640.0 L657.3 639.5 L658.2 639.1 L659.2 638.7 L660.1 638.3 L661.1 638.0 L662.1 637.7 L663.0 637.4 L664.0 637.2 L665.0 637.1 L665.9 636.9 L666.9 636.8 L667.8 636.8 L668.8 636.8 L669.7 636.8 L670.7 636.9 L671.6 637.0 L672.5 637.2 L673.4 637.4 L674.2 637.7 L675.1 638.0 L675.9 638.3 L676.8 638.7 L677.5 639.1 L678.3 639.6 L679.1 640.1 L679.8 640.7 L680.5 641.3 L681.2 642.0 L681.8 642.7 L682.4 643.4 L683.0 644.2 L683.6 645.0 L684.1 645.8 L684.7 646.7 L685.2 647.6 L685.6 648.5 L686.1 649.5 L686.5 650.5 L686.9 651.5 L687.3 652.5 L687.6 653.5 L687.9 654.5 L688.2 655.6 L688.5 656.7 L688.7 657.7 L688.9 658.8 L689.1 659.9 L689.3 661.0 L689.5 662.0 L689.6 663.1 L689.7 664.2 L689.8 665.2 L689.8 666.3 L689.8 667.3 L689.8 668.4 L691.4 668.3 L692.4 668.6 L693.5 669.0 L694.5 669.3 L695.5 669.6 L696.5 669.9 L697.5 670.2 L698.6 670.5 L699.6 670.8 L700.6 671.1 L701.7 671.4 L702.7 671.6 L703.7 671.9 L704.7 672.2 L705.8 672.5 L706.8 672.7 L707.8 673.0 L708.9 673.3 L709.9 673.5 L711.0 673.8 L712.0 674.0 L713.0 674.3 L714.1 674.5 L715.1 674.7 L716.2 675.0 L717.2 675.2 L718.1 674.9 L718.9 674.5 L719.7 674.1 L720.4 673.7 L721.2 673.2 L722.0 672.6 L722.8 672.0 L723.6 671.4 L724.5 670.8 L725.3 670.1 L726.1 669.4 L727.0 668.7 L727.8 667.9 L728.7 667.2 L729.5 666.5 L730.4 665.7 L731.2 665.0 L732.1 664.2 L733.0 663.5 L733.8 662.8 L734.7 662.1 L735.6 661.4 L736.5 660.7 L737.3 660.1 L738.2 659.5 L739.1 658.9 L740.0 658.4 L740.9 657.9 L741.7 657.5 L742.6 657.1 L743.5 656.8 L744.4 656.5 L745.2 656.3 L746.1 656.1 L746.9 656.0 L747.8 656.0 L748.6 656.1 L749.5 656.2 L750.3 656.3 L751.1 656.5 L751.9 656.8 L752.6 657.1 L753.4 657.5 L754.1 658.0 L754.8 658.5 L755.5 659.0 L756.2 659.7 L756.8 660.3 L757.5 661.0 L758.1 661.8 L758.7 662.6 L759.2 663.4 L759.8 664.3 L760.4 665.2 L760.9 666.1 L761.4 667.1 L762.0 668.0 L762.5 669.0 L763.0 670.0 L763.5 671.0 L764.0 672.0 L764.5 673.0 L765.0 674.1 L765.5 675.1 L766.0 676.1 L766.5 677.1 L767.0 678.1 L767.5 679.0 L768.1 680.0 L768.6 680.9 L769.1 681.8 L769.7 682.7 L770.3 683.5 L770.9 684.3 L771.5 685.0 L772.1 685.7 L772.7 686.4 L773.4 687.0 L774.0 687.6 L774.7 688.1 L775.5 688.5 L776.5 689.7 L777.5 689.9 L778.5 690.1 L779.6 690.3 L780.6 690.5 L781.6 690.7 L782.6 690.8 L783.6 690.9 L784.6 691.0 L785.6 691.1 L786.7 691.2 L787.7 691.2 L788.7 691.2 L789.7 691.2 L790.7 691.2 L791.7 691.1 L792.7 691.1 L793.7 691.0 L794.7 690.9 L795.7 690.7 L796.7 690.6 L797.7 690.4 L798.7 690.3 L799.7 690.1 L800.6 689.8 L801.6 689.6 L802.6 689.3 L803.5 689.1 L804.5 688.8 L805.5 688.5 L806.4 688.2 L807.4 687.8 L808.3 687.5 L809.2 687.1 L810.2 686.7 L811.1 686.3 L812.0 685.9 L812.9 685.5 L813.8 685.0 L814.7 684.6 L815.6 684.1 L816.5 683.6 L817.3 683.1 L818.2 682.6 L819.1 682.0 L819.9 681.5 L820.7 680.9 L821.6 680.4 L822.4 679.8 L823.2 679.2 L824.0 678.6 L824.8 678.0 L825.6 677.3 L826.4 676.7 L827.1 676.0 L827.9 675.4 L828.6 674.7 L829.3 674.0 L830.0 673.3 L830.8 672.6 L831.4 671.9 L832.1 671.1 L832.8 670.4 L833.5 669.6 L834.1 668.9 L834.7 668.1 L835.4 667.3 L836.0 666.6 L836.6 665.8 L837.1 665.0 L837.7 664.2 L838.3 663.3 L838.8 662.5 L839.3 661.7 L839.8 660.8 L840.3 660.0 L840.8 659.2 L841.3 658.3 L841.7 657.4 L842.2 656.6 L842.6 655.7 L843.0 654.8 L843.4 653.9 L843.8 653.0 L844.2 652.1 L844.6 651.2 L844.9 650.3 L845.3 649.4 L845.6 648.4 L845.9 647.5 L846.3 646.6 L846.6 645.6 L846.8 644.7 L847.1 643.7 L847.4 642.8 L847.6 641.8 L847.9 640.8 L848.1 639.9 L848.4 638.9 L848.6 637.9 L848.8 636.9 L849.0 636.0 L849.2 635.0 L849.4 634.0 L849.5 633.0 L849.7 632.0 L849.9 631.0 L850.0 630.0 L850.1 629.0 L850.3 628.0 L850.4 627.0 L850.5 626.0 L850.6 625.0 L850.7 623.9 L850.8 622.9 L850.9 621.9 L851.0 620.9 L851.0 619.9 L851.1 618.8 L851.2 617.8 L851.2 616.8 L851.3 615.8 L851.3 614.7 L851.3 613.7 L851.4 612.7 L851.4 611.7 L851.4 610.6 L851.4 609.6 L851.4 608.6 L851.4 607.5 L851.4 606.5 L851.4 605.5 L851.4 604.5 L851.4 603.4 L851.3 602.4 L851.3 601.4 L851.3 600.4 L851.3 599.3 L851.2 598.3 L851.2 597.3 L851.1 596.3 L851.1 595.3 L851.0 594.3 L851.0 593.2 L850.9 592.2 L850.9 591.2 L850.8 590.2 L850.8 589.2 L850.7 588.2 L850.6 587.2 L850.6 586.2 L850.5 585.2 L850.4 584.2 L850.4 583.2 L850.3 582.2 L850.2 581.2 L850.1 580.2 L850.1 579.2 L850.0 578.3 L849.9 577.3 L849.8 576.3 L849.8 575.3 L849.7 574.3 L849.6 573.3 L849.5 572.3 L849.4 571.3 L849.4 570.4 L849.3 569.4 L849.2 568.4 L849.1 567.4 L849.1 566.4 L849.0 565.4 L848.9 564.4 L848.8 563.5 L848.8 562.5 L848.7 561.5 L848.6 560.5 L848.6 559.5 L848.5 558.5 L848.5 557.5 L848.4 556.6 L848.3 555.6 L848.3 554.6 L848.2 553.6 L848.2 552.6 L848.2 551.6 L848.1 550.6 L848.1 549.6 L848.0 548.6 L848.0 547.6 L848.0 546.6 L848.0 545.6 L847.9 544.6 L847.9 543.6 L847.9 542.6 L847.9 541.6 L847.9 540.6 L847.9 539.6 L847.9 538.6 L847.9 537.6 L848.0 536.6 L848.0 535.6 L848.1 534.6 L848.1 533.6 L848.2 532.7 L848.3 531.7 L848.4 530.7 L848.5 529.7 L848.6 528.7 L848.7 527.7 L848.8 526.7 L849.0 525.8 L849.2 524.8 L849.4 523.8 L849.6 522.9 L849.8 521.9 L850.0 520.9 L850.3 520.0 L850.5 519.0 L850.8 518.1 L851.1 517.2 L851.4 516.2 L851.8 515.3 L852.1 514.4 L852.5 513.5 L852.9 512.6 L853.3 511.7 L853.8 510.8 L854.3 509.9 L854.7 509.0 L855.2 508.1 L855.7 507.3 L856.2 506.4 L856.8 505.5 L857.3 504.6 L857.8 503.8 L858.4 502.9 L858.9 502.0 L859.5 501.1 L860.0 500.3 L860.5 499.4 L861.1 498.5 L861.6 497.6 L862.1 496.7 L862.6 495.8 L863.1 494.9 L863.6 494.0 L864.1 493.1 L864.5 492.2 L865.0 491.2 L865.4 490.3 L865.8 489.4 L866.2 488.5 L866.6 487.5 L866.9 486.6 L867.3 485.6 L867.6 484.7 L867.9 483.8 L868.1 482.8 L868.4 481.9 L868.6 480.9 L868.8 480.0 L868.9 479.0 L869.1 478.1 L869.2 477.1 L869.2 476.1 L869.2 475.2 L869.2 474.2 L869.2 473.3 L869.1 472.3 L869.0 471.4 L868.9 470.4 L868.7 469.4 L868.5 468.5 L868.3 467.5 L868.0 466.5 L867.8 465.6 L867.5 464.6 L867.1 463.7 L866.8 462.7 L866.5 461.7 L866.1 460.8 L865.7 459.8 L865.3 458.9 L864.9 457.9 L864.5 457.0 L864.1 456.0 L863.6 455.0 L863.2 454.1 L862.8 453.1 L862.3 452.2 L861.9 451.2 L861.4 450.3 L861.0 449.3 L860.6 448.4 L860.1 447.5 L859.7 446.5 L859.3 445.6 L858.9 444.6 L858.5 443.7 L858.1 442.8 L857.7 441.8 L857.4 440.9 L857.0 439.9 L856.7 439.0 L856.3 438.1 L856.0 437.1 L855.7 436.2 L855.4 435.3 L855.2 434.3 L854.9 433.4 L854.7 432.5 L854.5 431.5 L854.3 430.6 L854.1 429.7 L854.0 428.7 L853.9 427.8 L853.8 426.9 L853.7 425.9 L853.7 425.0 L853.7 424.1 L853.7 423.1 L853.7 422.2 L853.8 421.3 L853.9 420.3 L854.0 419.4 L854.2 418.4 L854.3 417.5 L854.5 416.5 L854.7 415.6 L855.0 414.7 L855.2 413.7 L855.4 412.8 L855.7 411.8 L855.9 410.9 L856.1 409.9 L856.4 409.0 L856.6 408.0 L856.9 407.1 L857.1 406.1 L857.3 405.2 L857.6 404.3 L857.8 403.3 L858.1 402.4 L858.3 401.4 L858.5 400.5 L858.8 399.5 L859.0 398.6 L859.2 397.6 L859.5 396.7 L859.7 395.7 L859.9 394.8 L860.1 393.8 L860.4 392.9 L860.6 391.9 L860.8 390.9 L861.0 390.0 L861.2 389.0 L861.4 388.1 L861.6 387.1 L861.8 386.1 L862.0 385.2 L862.2 384.2 L862.4 383.2 L862.6 382.3 L862.7 381.3 L862.9 380.3 L863.1 379.3 L863.3 378.3 L863.4 377.4 L863.6 376.4 L863.7 375.4 L863.9 374.4 L864.0 373.4 L864.1 372.4 L864.2 371.4 L864.4 370.4 L864.5 369.4 L864.6 368.4 L864.7 367.4 L864.8 366.4 L864.9 365.4 L864.9 364.4 L865.0 363.4 L865.1 362.3 L865.1 361.3 L865.2 360.3 L865.3 359.3 L865.3 358.3 L865.4 357.2 L865.4 356.2 L865.5 355.2 L865.6 354.2 L865.6 353.2 L865.7 352.1 L865.8 351.1 L865.8 350.1 L865.9 349.1 L866.0 348.1 L866.1 347.1 L866.2 346.1 L866.3 345.1 L866.5 344.1 L866.6 343.2 L866.7 342.2 L866.9 341.2 L867.1 340.3 L867.3 339.3 L867.5 338.4 L867.7 337.4 L867.9 336.5 L868.2 335.6 L868.4 334.7 L868.7 333.7 L869.0 332.8 L869.3 332.0 L869.7 331.1 L870.0 330.2 L870.4 329.4 L870.8 328.5 L871.3 327.7 L871.7 326.9 L872.2 326.1 L872.7 325.3 L873.3 324.5 L873.9 323.7 L874.4 323.0 L875.1 322.2 L875.7 321.5 L876.4 320.8 L877.1 320.1 L877.8 319.4 L878.5 318.7 L879.3 318.1 L880.1 317.5 L880.9 316.8 L881.7 316.2 L882.5 315.6 L883.4 315.1 L884.2 314.5 L885.1 314.0 L886.0 313.5 L886.9 312.9 L887.8 312.5 L888.8 312.0 L889.7 311.5 L890.7 311.1 L891.7 310.7 L892.7 310.3 L893.7 309.9 L894.7 309.5 L895.7 309.2 L896.7 308.9 L897.7 308.6 L898.8 308.3 L899.8 308.0 L900.8 307.8 L901.9 307.6 L902.9 307.4 L904.0 307.2 L905.0 307.0 L906.1 306.9 L907.1 306.8 L908.2 306.7 L909.2 306.6 L910.3 306.6 L911.3 306.5 L912.4 306.5 L913.4 306.6 L914.4 306.6 L915.5 306.7 L916.5 306.8 L917.5 306.9 L918.5 307.0 L919.5 307.2 L920.5 307.4 L921.4 307.6 L922.4 307.8 L923.4 308.1 L924.3 308.3 L925.2 308.7 L926.1 309.0 L927.0 309.3 L927.9 309.7 L928.8 310.1 L929.7 310.6 L930.5 311.0 L931.4 311.5 L932.2 312.0 L933.0 312.5 L933.8 313.0 L934.6 313.6 L935.4 314.1 L936.2 314.7 L936.9 315.3 L937.7 315.9 L938.4 316.6 L939.2 317.2 L939.9 317.9 L940.6 318.6 L941.3 319.3 L941.9 320.0 L942.6 320.7 L943.3 321.5 L943.9 322.2 L944.6 323.0 L945.2 323.8 L945.8 324.6 L946.4 325.4 L947.0 326.2 L947.6 327.0 L948.2 327.9 L948.7 328.7 L949.3 329.6 L949.8 330.4 L950.3 331.3 L950.9 332.1 L951.4 333.0 L951.9 333.9 L952.4 334.8 L952.9 335.7 L953.3 336.6 L953.8 337.5 L954.2 338.4 L954.7 339.3 L955.1 340.2 L955.5 341.1 L955.9 342.1 L956.3 343.0 L956.7 343.9 L957.1 344.8 L957.5 345.8 L957.9 346.7 L958.2 347.6 L958.6 348.6 L958.9 349.5 L959.2 350.5 L959.6 351.4 L959.9 352.4 L960.2 353.3 L960.5 354.3 L960.8 355.2 L961.1 356.2 L961.3 357.2 L961.6 358.1 L961.9 359.1 L962.1 360.0 L962.4 361.0 L962.6 362.0 L962.9 363.0 L963.1 363.9 L963.3 364.9 L963.5 365.9 L963.7 366.9 L963.9 367.9 L964.1 368.8 L964.3 369.8 L964.5 370.8 L964.7 371.8 L964.9 372.8 L965.0 373.8 L965.2 374.8 L965.4 375.8 L965.5 376.7 L965.7 377.7 L965.8 378.7 L966.0 379.7 L966.1 380.7 L966.2 381.7 L966.4 382.7 L966.5 383.7 L966.6 384.7 L966.7 385.7 L966.8 386.7 L966.9 387.7 L967.0 388.7 L967.2 389.7 L967.3 390.7 L967.3 391.7 L967.4 392.7 L967.5 393.7 L967.6 394.7 L967.7 395.8 L967.8 396.8 L967.9 397.8 L967.9 398.8 L968.0 399.8 L968.1 400.8 L968.1 401.8 L968.2 402.8 L968.3 403.8 L968.3 404.8 L968.4 405.8 L968.4 406.8 L968.4 407.8 L968.5 408.8 L968.5 409.8 L968.5 410.8 L968.6 411.8 L968.6 412.8 L968.6 413.8 L968.6 414.8 L968.6 415.8 L968.6 416.8 L968.6 417.8 L968.6 418.8 L968.6 419.8 L968.6 420.8 L968.6 421.8 L968.5 422.8 L968.5 423.8 L968.5 424.8 L968.4 425.8 L968.4 426.8 L968.3 427.7 L968.3 428.7 L968.2 429.7 L968.1 430.7 L968.1 431.7 L968.0 432.7 L967.9 433.7 L967.8 434.7 L967.7 435.7 L967.6 436.6 L967.5 437.6 L967.4 438.6 L967.2 439.6 L967.1 440.6 L967.0 441.6 L966.8 442.5 L966.7 443.5 L966.5 444.5 L966.3 445.5 L966.2 446.4 L966.0 447.4 L965.8 448.4 L965.6 449.3 L965.4 450.3 L965.2 451.3 L965.0 452.2 L964.8 453.2 L964.5 454.2 L964.3 455.1 L964.0 456.1 L963.8 457.0 L963.5 458.0 L963.3 459.0 L963.0 459.9 L962.7 460.9 L962.4 461.8 L962.2 462.8 L961.9 463.7 L961.6 464.7 L961.3 465.6 L961.0 466.6 L960.6 467.5 L960.3 468.5 L960.0 469.4 L959.7 470.4 L959.4 471.3 L959.1 472.3 L958.7 473.2 L958.4 474.1 L958.1 475.1 L957.7 476.0 L957.4 477.0 L957.1 477.9 L956.7 478.9 L956.4 479.8 L956.0 480.8 L955.7 481.7 L955.3 482.6 L955.0 483.6 L954.7 484.5 L954.3 485.5 L954.0 486.4 L953.6 487.4 L953.3 488.3 L953.0 489.3 L952.6 490.2 L952.3 491.2 L952.0 492.1 L951.6 493.0 L951.3 494.0 L951.0 494.9 L950.6 495.9 L950.3 496.8 L950.0 497.8 L949.7 498.8 L949.4 499.7 L949.1 500.7 L948.8 501.6 L948.5 502.6 L948.2 503.5 L947.9 504.5 L947.6 505.4 L947.3 506.4 L947.0 507.4 L946.7 508.3 L946.4 509.3 L946.1 510.2 L945.9 511.2 L945.6 512.2 L945.3 513.1 L945.0 514.1 L944.8 515.0 L944.5 516.0 L944.2 517.0 L943.9 517.9 L943.7 518.9 L943.4 519.9 L943.1 520.8 L942.9 521.8 L942.6 522.8 L942.3 523.7 L942.1 524.7 L941.8 525.7 L941.5 526.6 L941.3 527.6 L941.0 528.6 L940.8 529.5 L940.5 530.5 L940.2 531.5 L940.0 532.4 L939.7 533.4 L939.5 534.4 L939.2 535.3 L938.9 536.3 L938.7 537.3 L938.4 538.2 L938.2 539.2 L937.9 540.1 L937.6 541.1 L937.4 542.1 L937.1 543.0 L936.9 544.0 L936.6 545.0 L936.3 545.9 L936.1 546.9 L935.8 547.9 L935.5 548.8 L935.2 549.8 L935.0 550.7 L934.7 551.7 L934.4 552.7 L934.2 553.6 L933.9 554.6 L933.6 555.6 L933.3 556.5 L933.0 557.5 L932.7 558.4 L932.5 559.4 L932.2 560.3 L931.9 561.3 L931.6 562.3 L931.3 563.2 L931.0 564.2 L930.7 565.1 L930.4 566.1 L930.1 567.0 L929.8 568.0 L929.5 568.9 L929.2 569.9 L928.8 570.8 L928.5 571.8 L928.2 572.7 L927.9 573.7 L927.6 574.6 L927.3 575.6 L927.0 576.5 L926.6 577.5 L926.3 578.4 L926.0 579.4 L925.7 580.3 L925.4 581.3 L925.0 582.2 L924.7 583.2 L924.4 584.1 L924.1 585.1 L923.7 586.0 L923.4 586.9 L923.1 587.9 L922.8 588.8 L922.4 589.8 L922.1 590.7 L921.8 591.7 L921.4 592.6 L921.1 593.6 L920.8 594.5 L920.5 595.5 L920.1 596.4 L919.8 597.4 L919.5 598.3 L919.2 599.2 L918.8 600.2 L918.5 601.1 L918.2 602.1 L917.9 603.0 L917.5 604.0 L917.2 604.9 L916.9 605.9 L916.6 606.8 L916.3 607.8 L915.9 608.7 L915.6 609.7 L915.3 610.6 L915.0 611.6 L914.7 612.5 L914.4 613.5 L914.0 614.4 L913.7 615.4 L913.4 616.3 L913.1 617.3 L912.8 618.2 L912.5 619.2 L912.2 620.1 L911.9 621.1 L911.6 622.0 L911.3 623.0 L911.0 624.0 L910.7 624.9 L910.4 625.9 L910.1 626.8 L909.8 627.8 L909.6 628.7 L909.3 629.7 L909.0 630.7 L908.7 631.6 L908.4 632.6 L908.2 633.5 L907.9 634.5 L907.6 635.5 L907.4 636.4 L907.1 637.4 L906.8 638.4 L906.5 639.3 L906.3 640.3 L906.0 641.3 L905.8 642.2 L905.5 643.2 L905.2 644.1 L905.0 645.1 L904.7 646.1 L904.4 647.0 L904.2 648.0 L903.9 649.0 L903.6 649.9 L903.4 650.9 L903.1 651.9 L902.8 652.8 L902.6 653.8 L902.3 654.7 L902.0 655.7 L901.7 656.7 L901.5 657.6 L901.2 658.6 L900.9 659.5 L900.6 660.5 L900.3 661.5 L900.1 662.4 L899.8 663.4 L899.5 664.3 L899.2 665.3 L898.9 666.2 L898.6 667.2 L898.3 668.1 L898.0 669.1 L897.7 670.0 L897.4 671.0 L897.1 671.9 L896.7 672.9 L896.4 673.8 L896.1 674.8 L895.8 675.7 L895.4 676.7 L895.1 677.6 L894.8 678.5 L894.4 679.5 L894.1 680.4 L893.7 681.4 L893.3 682.3 L893.0 683.2 L892.6 684.1 L892.2 685.1 L891.8 686.0 L891.5 686.9 L891.1 687.8 L890.7 688.8 L890.3 689.7 L889.8 690.6 L889.4 691.5 L889.0 692.4 L888.6 693.3 L888.1 694.2 L887.7 695.1 L887.2 696.0 L886.8 696.9 L886.3 697.8 L885.8 698.7 L885.4 699.6 L884.9 700.5 L884.4 701.4 L883.9 702.3 L883.4 703.2 L882.8 704.1 L882.3 704.9 L881.8 705.6 L880.9 706.0 L879.9 706.5 L879.0 706.9 L878.1 707.3 L877.2 707.8 L876.3 708.2 L875.3 708.6 L874.4 709.0 L873.5 709.4 L872.5 709.9 L871.6 710.3 L870.7 710.7 L869.8 711.0 L868.8 711.4 L867.9 711.8 L867.0 712.2 L866.0 712.6 L865.1 712.9 L864.1 713.3 L863.2 713.7 L862.3 714.0 L861.3 714.4 L860.4 714.7 L859.4 715.1 L858.5 715.4 L857.5 715.7 L856.6 716.1 L855.6 716.4 L854.7 716.7 L853.7 717.0 L852.8 717.4 L851.8 717.7 L850.9 718.0 L849.9 718.3 L849.0 718.6 L848.0 718.9 L847.0 719.1 L846.1 719.4 L845.1 719.7 L844.2 720.0 L843.2 720.3 L842.2 720.5 L841.3 720.8 L840.3 721.0 L839.3 721.3 L838.4 721.5 L837.4 721.8 L836.4 722.0 L835.5 722.3 L834.5 722.5 L833.5 722.7 L832.6 723.0 L831.6 723.2 L830.6 723.4 L829.6 723.6 L828.7 723.8 L827.7 724.0 L826.7 724.2 L825.7 724.4 L824.8 724.6 L823.8 724.8 L822.8 725.0 L821.8 725.2 L820.8 725.4 L819.9 725.5 L818.9 725.7 L817.9 725.9 L816.9 726.0 L815.9 726.2 L814.9 726.4 L814.0 726.5 L813.0 726.7 L812.0 726.8 L811.0 727.0 L810.0 727.1 L809.0 727.2 L808.0 727.4 L807.1 727.5 L806.1 727.6 L805.1 727.7 L804.1 727.9 L803.1 728.0 L802.1 728.1 L801.1 728.2 L800.1 728.3 L799.1 728.4 L798.1 728.5 L797.1 728.6 L796.1 728.7 L795.1 728.8 L794.2 728.9 L793.2 728.9 L792.2 729.0 L791.2 729.1 L790.2 729.2 L789.2 729.2 L788.2 729.3 L787.2 729.4 L786.2 729.4 L785.2 729.5 L784.2 729.5 L783.2 729.6 L782.2 729.6 L781.2 729.7 L780.2 729.7 L779.2 729.8 L778.2 729.8 L777.2 729.8 L776.2 729.9 L775.2 729.9 L774.2 729.9 L773.2 729.9 L772.2 729.9 L771.2 729.9 L770.2 730.0 L769.2 730.0 L768.2 730.0 L767.2 730.0 L766.2 730.0 L765.2 730.0 L764.2 730.0 L763.1 730.0 L762.1 729.9 L761.1 729.9 L760.1 729.9 L759.1 729.9 L758.1 729.9 L757.1 729.9 L756.1 729.8 L755.1 729.8 L754.1 729.8 L753.1 729.7 L752.1 729.7 L751.1 729.6 L750.1 729.6 L749.1 729.6 L748.1 729.5 L747.1 729.5 L746.1 729.4 L745.1 729.3 L744.1 729.3 L743.1 729.2 L742.1 729.2 L741.1 729.1 L740.1 729.0 L739.1 729.0 L738.1 728.9 L737.1 728.8 L736.1 728.7 L735.1 728.6 L734.1 728.6 L733.1 728.5 L732.1 728.4 L731.1 728.3 L730.1 728.2 L729.1 728.1 L728.1 728.0 L727.1 727.9 L726.1 727.8 L725.1 727.7 L724.1 727.6 L723.1 727.4 L722.1 727.3 L721.1 727.2 L720.1 727.1 L719.1 727.0 L718.1 726.8 L717.1 726.7 L716.1 726.6 L715.1 726.4 L714.1 726.3 L713.1 726.2 L712.1 726.0 L711.1 725.9 L710.1 725.7 L709.1 725.6 L708.1 725.4 L707.1 725.2 L706.1 725.1 L705.1 724.9 L704.2 724.8 L703.2 724.6 L702.2 724.4 L701.2 724.2 L700.2 724.1 L699.2 723.9 L698.2 723.7 L697.2 723.5 L696.2 723.3 L695.2 723.1 L694.3 722.9 L693.3 722.8 L692.3 722.6 L691.3 722.4 L690.3 722.1 L689.3 721.9 L688.4 721.7 L687.4 721.5 L686.4 721.3 L685.4 721.1 L684.4 720.9 L683.5 720.6 L682.5 720.4 L681.5 720.2 L680.5 720.0 L679.5 719.7 L678.6 719.5 L677.6 719.2 L676.6 719.0 L675.6 718.8 L674.7 718.5 L673.7 718.3 L672.7 718.0 L671.8 717.7 L670.8 717.5 L669.8 717.2 L668.9 717.0 L667.9 716.7 L666.9 716.4 L666.0 716.1 L665.0 715.9 L664.0 715.6 L663.1 715.3 L662.1 715.0 L661.1 714.7 L660.2 714.4 L659.2 714.1 L658.3 713.8 L657.3 713.5 L656.3 713.2 L655.4 712.9 L654.4 712.6 L653.5 712.3 L652.5 712.0 L651.6 711.7 L650.6 711.4 L649.7 711.0 L648.7 710.7 L647.8 710.4 L646.8 710.1 L645.9 709.7 L644.9 709.4 L644.0 709.1 L643.1 708.7 L642.1 708.4 L641.2 708.0 L640.2 707.7 L639.3 707.3 L638.4 707.0 L637.4 706.6 L636.5 706.2 L635.6 705.9 L634.6 705.5 L633.7 705.1 L632.8 704.8 L631.8 704.4 L630.9 704.0 L630.0 703.6 L629.1 703.2 L628.1 702.8 L627.2 702.4 L626.3 702.1 L625.4 701.7 L624.5 701.3 L623.5 700.9 L622.6 700.4 L621.7 700.0 L620.8 699.6 L619.9 699.2 L619.0 698.8 L618.1 698.4 L617.2 697.9 L616.2 697.5 L615.3 697.1 L614.4 696.7 L613.5 696.2 L612.6 695.8 L611.7 695.3 L610.8 694.9 L609.9 694.4 L609.0 694.0 L608.2 693.5 L607.3 693.1 L606.4 692.6 L605.5 692.2 L604.6 691.7 L603.7 691.2 L602.8 690.7 L602.0 690.3 L601.1 689.8 L600.2 689.3 L599.3 688.8 L598.5 688.3 L597.6 687.8 L596.8 687.3 L595.9 686.8 L595.0 686.3 L594.2 685.8 L593.4 685.2 L592.5 684.7 L591.7 684.2 L590.8 683.6 L590.0 683.1 L589.2 682.5 L588.4 682.0 L587.6 681.4 L586.7 680.9 L585.9 680.3 L585.1 679.7 L584.3 679.1 L583.5 678.5 L582.8 677.9 L582.0 677.3 L581.2 676.7 L580.4 676.1 L579.7 675.5 L578.9 674.9 L578.2 674.2 L577.4 673.6 L576.7 673.0 L575.9 672.3 L575.2 671.6 L574.5 671.0 L573.8 670.3 L573.1 669.6 L572.4 668.9 L571.7 668.2 L571.0 667.5 L570.3 666.8 L569.6 666.1 L569.0 665.4 L568.3 664.7 L567.6 663.9 L567.0 663.2 L566.3 662.5 L565.7 661.7 L565.1 660.9 L564.5 660.2 L563.8 659.4 L563.2 658.6 L562.6 657.9 L562.0 657.1 L561.4 656.3 L560.8 655.5 L560.2 654.7 L559.7 653.9 L559.1 653.1 L558.5 652.3 L558.0 651.4 L557.4 650.6 L556.9 649.8 L556.3 648.9 L555.8 648.1 L555.3 647.3 L554.8 646.4 L554.2 645.6 L553.7 644.7 L553.2 643.8 L552.7 643.0 L552.2 642.1 L551.7 641.2 L551.3 640.3 L550.8 639.4 L550.3 638.6 L549.9 637.7 L549.4 636.8 L549.0 635.9 L548.5 635.0 L548.1 634.0 L547.6 633.1 L547.2 632.2 L546.8 631.3 L546.4 630.4 L546.0 629.4 L545.5 628.5 L545.1 627.6 L544.8 626.6 L544.4 625.7 L544.0 624.8 L543.6 623.8 L543.2 622.9 L542.9 621.9 L542.5 621.0 L542.1 620.0 L541.8 619.1 L541.4 618.1 L541.1 617.1 L540.8 616.2 L540.4 615.2 L540.1 614.2 L539.8 613.3 L539.5 612.3 L539.2 611.3 L538.9 610.3 L538.6 609.3 L538.3 608.4 L538.0 607.4 L537.7 606.4 L537.4 605.4 L537.1 604.4 L536.9 603.4 L536.6 602.4 L536.3 601.5 L536.1 600.5 L535.8 599.5 L535.6 598.5 L535.3 597.5 L535.1 596.5 L534.9 595.5 L534.7 594.5 L534.4 593.5 L534.2 592.5 L534.0 591.5 L533.8 590.5 L533.6 589.5 L533.4 588.5 L533.2 587.5 L533.0 586.5 L532.8 585.5 L532.6 584.5 L532.5 583.5 L532.3 582.5 L532.1 581.5 L532.0 580.5 L531.8 579.5 L531.6 578.5 L531.5 577.5 L531.3 576.5 L531.2 575.5 L531.1 574.5 L530.9 573.5 L530.8 572.5 L530.7 571.5 L530.5 570.6 L530.4 569.6 L530.3 568.6 L530.2 567.6 L530.1 566.6 L530.0 565.6 L529.9 564.6 L529.8 563.7 L529.7 562.7 L529.6 561.7 L529.5 560.7 L529.5 559.8 L529.4 558.8 L529.3 557.8 L529.2 556.8 L529.2 555.9 L529.1 554.9 L529.1 554.0 L529.0 553.0 L529.0 552.0 L528.9 551.1 L528.9 550.1 L528.8 549.2 L528.8 548.3 L528.4 548.7 L527.3 548.9 L526.2 549.2 L525.2 549.5 L524.1 549.8 L523.1 550.1 L522.1 550.5 L521.1 550.8 L520.1 551.2 L519.2 551.5 L518.2 551.9 L517.3 552.3 L516.3 552.8 L515.4 553.2 L514.5 553.7 L513.6 554.1 L512.7 554.6 L511.9 555.1 L511.0 555.6 L510.2 556.1 L509.3 556.6 L508.5 557.2 L507.7 557.7 L506.8 558.3 L506.0 558.8 L505.2 559.4 L504.5 560.0 L503.7 560.6 L502.9 561.2 L502.1 561.8 L501.4 562.5 L500.6 563.1 L499.9 563.7 L499.1 564.4 L498.4 565.0 L497.6 565.7 L496.9 566.4 L496.2 567.1 L495.5 567.7 L494.7 568.4 L494.0 569.1 L493.3 569.8 L492.6 570.5 L491.9 571.3 L491.2 572.0 L490.5 572.7 L489.8 573.4 L489.1 574.1 L488.4 574.9 L487.7 575.6 L487.0 576.4 L486.3 577.1 L485.6 577.8 L484.9 578.6 L484.2 579.3 L483.6 580.1 L482.9 580.8 L482.2 581.6 L481.5 582.3 L480.7 583.1 L480.0 583.9 L479.3 584.6 L478.6 585.4 L477.9 586.1 L477.2 586.9 L476.5 587.6 L475.7 588.3 L475.0 589.1 L474.3 589.8 L473.5 590.6 L472.8 591.3 L472.0 592.0 L471.2 592.8 L470.5 593.5 L469.7 594.2 L468.9 594.9 L468.1 595.6 L467.4 596.3 L466.6 597.0 L465.8 597.6 L464.9 598.2 L464.1 598.8 L463.3 599.4 L462.5 600.0 L461.7 600.5 L460.8 601.0 L460.0 601.4 L459.2 601.8 L458.3 602.2 L457.5 602.5 L456.6 602.8 L455.8 603.0 L454.9 603.2 L454.1 603.4 L453.2 603.4 L452.3 603.5 L451.5 603.4 L450.6 603.3 L449.8 603.2 L448.9 603.0 L448.0 602.7 L447.2 602.4 L446.3 602.0 L445.5 601.6 L444.6 601.1 L443.8 600.6 L443.0 600.0 L442.2 599.4 L441.4 598.8 L440.6 598.1 L439.9 597.4 L439.2 596.7 L438.5 596.0 L437.8 595.2 L437.1 594.4 L436.5 593.6 L435.9 592.7 L435.4 591.9 L434.9 591.0 L434.4 590.1 L433.9 589.2 L433.5 588.3 L433.1 587.4 L432.8 586.5 L432.5 585.6 L432.2 584.7 L432.0 583.8 L431.8 582.9 L431.6 582.0 L431.5 581.0 L431.4 580.1 L431.3 579.1 L431.3 578.2 L431.3 577.3 L431.3 576.3 L431.3 575.4 L431.4 574.4 L431.5 573.5 L431.7 572.5 L431.8 571.5 L432.0 570.6 L432.2 569.6 L432.4 568.7 L432.7 567.7 L433.0 566.8 L433.3 565.8 L433.6 564.9 L434.0 563.9 L434.3 562.9 L434.7 562.0 L435.1 561.1 L435.6 560.1 L436.0 559.2 L436.5 558.2 L437.0 557.3 L437.5 556.4 L438.0 555.4 L438.5 554.5 L439.1 553.6 L439.6 552.7 L440.2 551.8 L440.8 550.9 L441.4 550.0 L442.0 549.1 L442.6 548.2 L443.3 547.4 L443.9 546.5 L444.6 545.6 L445.2 544.8 L445.9 543.9 L446.6 543.1 L447.3 542.3 L448.0 541.5 L448.7 540.7 L449.4 539.9 L450.1 539.1 L450.8 538.3 L451.5 537.5 L452.2 536.8 L452.9 536.0 L453.7 535.3 L454.4 534.6 L455.1 533.8 L455.9 533.1 L456.6 532.4 L457.4 531.8 L458.1 531.1 L458.9 530.4 L459.6 529.7 L460.4 529.1 L461.2 528.4 L461.9 527.8 L462.7 527.2 L463.5 526.6 L464.3 526.0 L465.0 525.3 L465.8 524.8 L466.6 524.2 L467.4 523.6 L468.2 523.0 L469.0 522.4 L469.8 521.9 L470.6 521.3 L471.5 520.8 L472.3 520.3 L473.1 519.7 L473.9 519.2 L474.7 518.7 L475.6 518.2 L476.4 517.7 L477.2 517.2 L478.1 516.7 L478.9 516.2 L479.8 515.7 L480.6 515.2 L481.5 514.8 L482.3 514.3 L483.2 513.8 L484.1 513.4 L484.9 512.9 L485.8 512.5 L486.7 512.0 L487.6 511.6 L488.4 511.2 L489.3 510.8 L490.2 510.3 L491.1 509.9 L492.0 509.5 L492.9 509.1 L493.8 508.7 L494.7 508.3 L495.6 507.9 L496.5 507.5 L497.4 507.1 L498.3 506.7 L499.3 506.3 L500.2 505.9 L501.1 505.5 L502.0 505.2 L503.0 504.8 L503.9 504.4 L504.8 504.0 L505.8 503.7 L506.7 503.3 L507.7 502.9 L508.6 502.6 L509.6 502.2 L510.5 501.8 L511.5 501.5 L512.4 501.1 L513.4 500.8 L514.3 500.4 L515.3 500.1 L516.3 499.7 L517.2 499.3 L518.2 499.0 L519.2 498.6 L520.2 498.3 L521.2 497.9 L522.1 497.6 L523.1 497.2 L524.1 496.9 L524.9 496.2 L525.3 495.3 L525.6 494.4 L526.0 493.5 L526.3 492.5 L526.6 491.6 L526.9 490.7 L527.1 489.7 L527.4 488.8 L527.6 487.9 L527.8 486.9 L528.0 486.0 L528.2 485.0 L528.4 484.1 L528.5 483.1 L528.7 482.1 L528.8 481.2 L528.9 480.2 L529.0 479.2 L529.1 478.2 L529.2 477.3 L529.3 476.3 L529.3 475.3 L529.4 474.3 L529.4 473.3 L529.5 472.3 L529.5 471.3 L529.5 470.3 L529.5 469.3 L529.5 468.3 L529.5 467.3 L529.4 466.3 L529.4 465.3 L529.4 464.3 L529.3 463.2 L529.3 462.2 L529.2 461.2 L529.2 460.2 L529.1 459.2 L529.0 458.2 L529.0 457.1 L528.9 456.1 L528.8 455.1 L528.8 454.1 L528.7 453.0 L528.6 452.0 L528.5 451.0 L528.4 450.0 L528.3 448.9 L528.3 447.9 L528.2 446.9 L528.1 445.8 L528.0 444.8 L527.9 443.8 L527.8 442.8 L527.8 441.7 L527.7 440.7 L527.6 439.7 L527.6 438.7 L527.5 437.6 L527.4 436.6 L527.4 435.6 L527.3 434.6 L527.3 433.5 L527.3 432.5 L527.2 431.5 L527.2 430.5 L527.2 429.5 L527.2 428.4 L527.2 427.4 L527.2 426.4 L527.2 425.4 L527.3 424.4 L527.3 423.4 L527.3 422.4 L527.4 421.4 L527.5 420.4 L527.6 419.4 L527.7 418.4 L527.8 417.4 L527.9 416.4 L528.0 415.4 L528.2 414.5 L528.3 413.5 L528.5 412.5 L528.7 411.5 L528.9 410.6 L529.1 409.6 L529.3 408.6 L529.6 407.7 L529.8 406.7 L530.1 405.8 L530.4 404.8 L530.7 403.9 L531.1 403.0 L531.4 402.1 L531.8 401.1 L532.2 400.2 L532.6 399.4 L533.0 398.5 L533.4 397.6 L533.9 396.7 L534.3 395.9 L534.8 395.0 L535.3 394.2 L535.8 393.4 L536.4 392.6 L536.9 391.8 L537.5 391.0 L538.1 390.3 L538.7 389.5 L539.4 388.8 L540.0 388.1 L540.7 387.4 L541.4 386.7 L542.1 386.0 L542.8 385.4 L543.5 384.7 L544.3 384.1 L545.1 383.5 L545.8 382.8 L546.6 382.2 L547.4 381.6 L548.2 381.0 L549.1 380.4 L549.9 379.9 L550.7 379.3 L551.5 378.7 L552.4 378.1 L553.2 377.5 L554.0 377.0 L554.9 376.4 L555.7 375.8 L556.5 375.2 L557.4 374.6 L558.2 374.0 L559.0 373.4 L559.8 372.8 L560.6 372.2 L561.4 371.5 L562.2 370.9 L563.0 370.2 L563.7 369.6 L564.5 368.9 L565.2 368.2 L565.9 367.5 L566.7 366.8 L567.4 366.0 L568.1 365.3 L568.8 364.6 L569.4 363.8 L570.1 363.1 L570.8 362.3 L571.4 361.5 L572.1 360.7 L572.7 359.9 L573.3 359.1 L574.0 358.3 L574.6 357.5 L575.2 356.7 L575.8 355.9 L576.4 355.0 L577.0 354.2 L577.6 353.4 L578.2 352.5 L578.8 351.7 L579.4 350.8 L579.9 350.0 L580.5 349.1 L581.1 348.3 L581.7 347.4 L582.2 346.6 L582.8 345.7 L583.4 344.9 L583.9 344.0 L584.5 343.1 L585.1 342.3 L585.6 341.4 L586.2 340.6 L586.8 339.7 L587.3 338.9 L587.9 338.0 L588.5 337.2 L589.1 336.4 L589.6 335.5 L590.2 334.7 L590.8 333.9 L591.4 333.0 L592.0 332.2 L592.6 331.4 L593.2 330.6 L593.8 329.8 L594.5 329.0 L595.1 328.3 L595.7 327.5 L596.3 326.7 L597.0 326.0 L597.6 325.2 L598.3 324.5 L599.0 323.8 L599.7 323.1 L600.3 322.4 L601.0 321.7 L601.7 321.0 L602.5 320.3 L603.2 319.7 L603.9 319.0 L604.7 318.4 L605.4 317.8 L606.2 317.2 L607.0 316.6 L607.8 316.1 L608.6 315.6 L609.4 315.1 L610.2 314.7 L611.1 314.3 L611.9 314.0 L612.8 313.7 L613.6 313.5 L614.5 313.3 L615.4 313.2 L616.3 313.1 L617.2 313.2 L618.1 313.2 L619.0 313.4 L619.9 313.7 L620.9 314.0 L621.8 314.4 L622.8 314.9Z" fill="#070a0b"/>
<g fill="#1d1d1b">
<rect x="692.7" y="265" width="7.3" height="33.2"/>
<path fill-rule="evenodd" d="M706.35 265.4 a10.45 10.45 0 1 1 0 20.9 a10.45 10.45 0 1 1 0 -20.9Z M704.75 271.2 a4.85 4.7 0 1 0 0 9.4 a4.85 4.7 0 1 0 0 -9.4Z"/>
<rect x="721.5" y="270.5" width="11.5" height="6.1"/>
<path d="M754 270.6 C751.6 268.2 741.8 267.4 741.5 272.2 C741.2 276.4 752.6 275 752.4 280.2 C752.2 285.2 742.3 285.1 739.3 281.9" fill="none" stroke="#1d1d1b" stroke-width="6"/>
<rect x="760" y="266" width="7.5" height="32"/>
<path fill-rule="evenodd" d="M775.5 265.2 a10.5 10.5 0 1 1 0 21 a10.5 10.5 0 1 1 0 -21Z M772.5 271.9 a4.6 4.6 0 1 0 0 9.2 a4.6 4.6 0 1 0 0 -9.2Z"/>
<path fill-rule="evenodd" d="M800 265 a12 10.75 0 1 1 0 21.5 a12 10.75 0 1 1 0 -21.5Z M800 271.5 a5 4.75 0 1 0 0 9.5 a5 4.75 0 1 0 0 -9.5Z"/>
<rect x="818" y="259" width="7.8" height="27.5"/>
<rect x="815" y="264.5" width="14.5" height="6.5"/>
</g>
</svg>
</body></html>
